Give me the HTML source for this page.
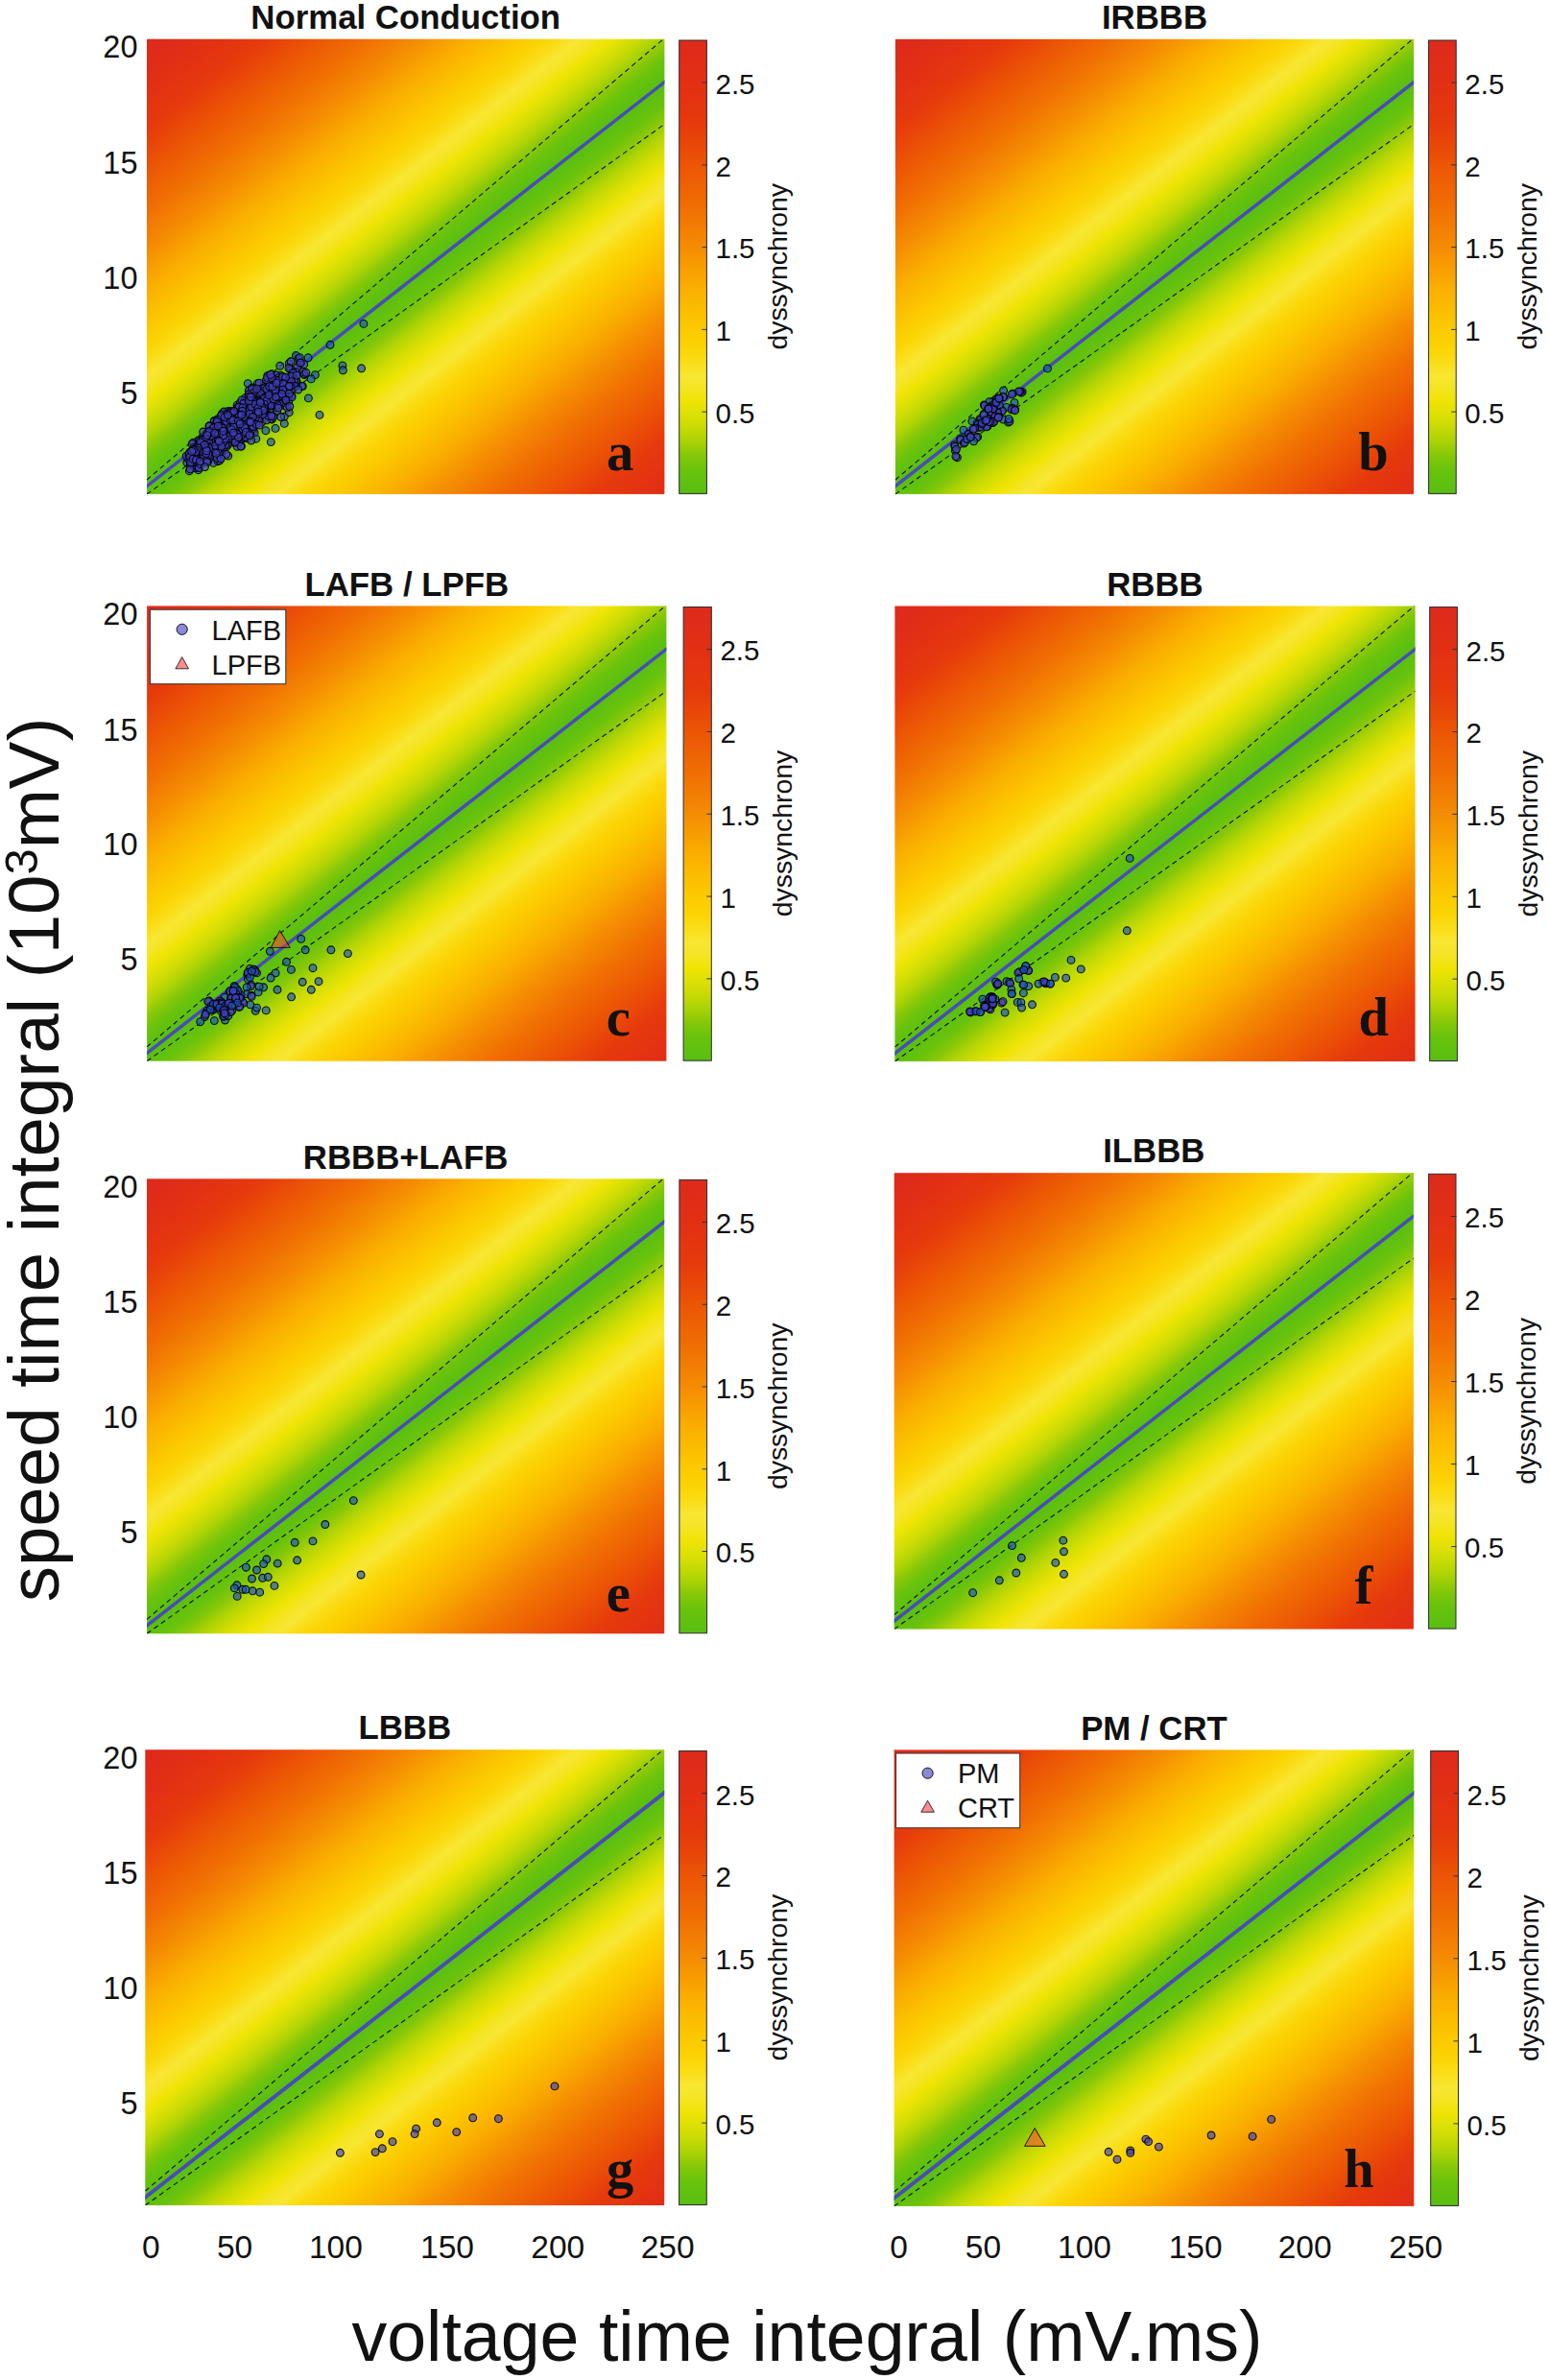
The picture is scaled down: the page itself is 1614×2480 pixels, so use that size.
<!DOCTYPE html><html><head><meta charset="utf-8"><title>figure</title><style>html,body{margin:0;padding:0;background:#fff}svg{display:block}text{font-family:"Liberation Sans",Arial,sans-serif;fill:#111}.t{font-weight:bold;font-size:34.8px;text-anchor:middle}.yt{font-size:32.5px;text-anchor:end}.xt{font-size:33.5px;text-anchor:middle}.ct{font-size:29.5px}.dy{font-size:28.4px;text-anchor:middle}.lt{font-family:"Liberation Serif","Times New Roman",serif;font-weight:bold;font-size:56.5px;text-anchor:middle;fill:#111}.lg{font-size:29px}.s{fill:rgb(25,85,190)}.pt{fill:rgb(64,64,188);fill-opacity:.66;stroke:#000;stroke-opacity:.9;stroke-width:1.1}</style></head><body><svg width="1614" height="2480" viewBox="0 0 1614 2480"><defs><linearGradient id="fs"><stop offset="0.0102" stop-color="#de2a1b"/><stop offset="0.0553" stop-color="#e23014"/><stop offset="0.0987" stop-color="#e63a0c"/><stop offset="0.1422" stop-color="#ec5505"/><stop offset="0.1856" stop-color="#f06e03"/><stop offset="0.2290" stop-color="#f58c03"/><stop offset="0.2724" stop-color="#faaf00"/><stop offset="0.3158" stop-color="#fcca00"/><stop offset="0.3353" stop-color="#fbd405"/><stop offset="0.3515" stop-color="#fade19"/><stop offset="0.3634" stop-color="#f8e632"/><stop offset="0.3750" stop-color="#f5e528"/><stop offset="0.3903" stop-color="#f0e405"/><stop offset="0.4007" stop-color="#e1e105"/><stop offset="0.4134" stop-color="#cddc05"/><stop offset="0.4288" stop-color="#afd405"/><stop offset="0.4442" stop-color="#87c808"/><stop offset="0.4595" stop-color="#69c30c"/><stop offset="0.4833" stop-color="#58be12"/><stop offset="0.5071" stop-color="#69c30c"/><stop offset="0.5224" stop-color="#87c808"/><stop offset="0.5378" stop-color="#afd405"/><stop offset="0.5531" stop-color="#cddc05"/><stop offset="0.5659" stop-color="#e1e105"/><stop offset="0.5763" stop-color="#f0e405"/><stop offset="0.5916" stop-color="#f5e528"/><stop offset="0.6032" stop-color="#f8e632"/><stop offset="0.6151" stop-color="#fade19"/><stop offset="0.6313" stop-color="#fbd405"/><stop offset="0.6507" stop-color="#fcca00"/><stop offset="0.6942" stop-color="#faaf00"/><stop offset="0.7376" stop-color="#f58c03"/><stop offset="0.7810" stop-color="#f06e03"/><stop offset="0.8244" stop-color="#ec5505"/><stop offset="0.8678" stop-color="#e63a0c"/><stop offset="0.9113" stop-color="#e23014"/><stop offset="0.9564" stop-color="#de2a1b"/></linearGradient><linearGradient id="cbg" x1="0" y1="1" x2="0" y2="0"><stop offset="0.0000" stop-color="#58be12"/><stop offset="0.0522" stop-color="#69c30c"/><stop offset="0.0859" stop-color="#87c808"/><stop offset="0.1196" stop-color="#afd405"/><stop offset="0.1533" stop-color="#cddc05"/><stop offset="0.1812" stop-color="#e1e105"/><stop offset="0.2040" stop-color="#f0e405"/><stop offset="0.2377" stop-color="#f5e528"/><stop offset="0.2630" stop-color="#f8e632"/><stop offset="0.2880" stop-color="#fade19"/><stop offset="0.3217" stop-color="#fbd405"/><stop offset="0.3623" stop-color="#fcca00"/><stop offset="0.4529" stop-color="#faaf00"/><stop offset="0.5435" stop-color="#f58c03"/><stop offset="0.6341" stop-color="#f06e03"/><stop offset="0.7246" stop-color="#ec5505"/><stop offset="0.8152" stop-color="#e63a0c"/><stop offset="0.9058" stop-color="#e23014"/><stop offset="1.0000" stop-color="#de2a1b"/></linearGradient><linearGradient id="fa" href="#fs" gradientUnits="userSpaceOnUse" x1="153.00" y1="40.70" x2="619.86" y2="640.01"/><clipPath id="ca"><rect x="153.00" y="40.70" width="539.40" height="474.20"/></clipPath><linearGradient id="fb" href="#fs" gradientUnits="userSpaceOnUse" x1="932.90" y1="40.80" x2="1400.45" y2="639.98"/><clipPath id="cb"><rect x="932.90" y="40.80" width="540.20" height="474.10"/></clipPath><linearGradient id="fc" href="#fs" gradientUnits="userSpaceOnUse" x1="153.10" y1="631.40" x2="621.60" y2="1230.84"/><clipPath id="cc"><rect x="153.10" y="631.40" width="541.30" height="474.30"/></clipPath><linearGradient id="fd" href="#fs" gradientUnits="userSpaceOnUse" x1="932.40" y1="631.50" x2="1401.68" y2="1231.19"/><clipPath id="cd"><rect x="932.40" y="631.50" width="542.20" height="474.50"/></clipPath><linearGradient id="fe" href="#fs" gradientUnits="userSpaceOnUse" x1="153.00" y1="1228.30" x2="619.69" y2="1827.36"/><clipPath id="ce"><rect x="153.00" y="1228.30" width="539.20" height="474.00"/></clipPath><linearGradient id="ff" href="#fs" gradientUnits="userSpaceOnUse" x1="931.70" y1="1222.20" x2="1400.12" y2="1823.03"/><clipPath id="cf"><rect x="931.70" y="1222.20" width="541.20" height="475.40"/></clipPath><linearGradient id="fg" href="#fs" gradientUnits="userSpaceOnUse" x1="151.30" y1="1823.20" x2="619.46" y2="2423.27"/><clipPath id="cg"><rect x="151.30" y="1823.20" width="540.90" height="474.80"/></clipPath><linearGradient id="fh" href="#fs" gradientUnits="userSpaceOnUse" x1="931.60" y1="1823.40" x2="1400.45" y2="2424.35"/><clipPath id="ch"><rect x="931.60" y="1823.40" width="541.70" height="475.50"/></clipPath></defs><rect width="1614" height="2480" fill="#fff"/><g id="panel-a"><rect x="153.00" y="40.70" width="539.40" height="474.20" fill="url(#fa)"/><g clip-path="url(#ca)"><path d="M153.00 500.01L692.40 39.75M153.00 514.90L692.40 129.38" stroke="#101010" stroke-width="1.1" stroke-dasharray="5.2 3.9" fill="none"/><path d="M151.00 508.16L694.40 84.05" stroke="rgb(72,76,184)" stroke-width="3.5" fill="none"/></g><g class="pt"><circle class="s" cx="378.9" cy="337.4" r="3.9"/><circle class="s" cx="344.0" cy="359.3" r="3.9"/><circle class="s" cx="356.9" cy="380.9" r="3.9"/><circle class="s" cx="357.4" cy="385.8" r="3.9"/><circle class="s" cx="376.6" cy="383.8" r="3.9"/><circle class="s" cx="321.1" cy="372.8" r="3.9"/><circle class="s" cx="308.4" cy="370.4" r="3.9"/><circle class="s" cx="311.0" cy="373.5" r="3.9"/><circle class="s" cx="328.4" cy="390.6" r="3.9"/><circle class="s" cx="324.2" cy="394.9" r="3.9"/><circle class="s" cx="317.2" cy="390.6" r="3.9"/><circle class="s" cx="315.3" cy="402.5" r="3.9"/><circle class="s" cx="321.4" cy="414.9" r="3.9"/><circle class="s" cx="333.0" cy="432.4" r="3.9"/><circle class="s" cx="258.3" cy="399.6" r="3.9"/><circle class="s" cx="296.3" cy="441.4" r="3.9"/><circle class="s" cx="296.3" cy="434.0" r="3.9"/><circle class="s" cx="287.0" cy="446.4" r="3.9"/><circle class="s" cx="282.3" cy="460.6" r="3.9"/><circle class="s" cx="276.9" cy="448.7" r="3.9"/><circle class="s" cx="266.8" cy="457.2" r="3.9"/><circle class="s" cx="206.7" cy="489.7" r="3.9"/><circle class="s" cx="194.8" cy="482.0" r="3.9"/><circle cx="252.8" cy="457.1" r="3.9"/><circle cx="232.7" cy="433.4" r="3.9"/><circle cx="224.3" cy="456.6" r="3.9"/><circle cx="249.8" cy="438.3" r="3.9"/><circle cx="255.2" cy="432.9" r="3.9"/><circle cx="211.1" cy="465.1" r="3.9"/><circle cx="286.8" cy="406.4" r="3.9"/><circle cx="270.8" cy="435.4" r="3.9"/><circle cx="212.7" cy="461.8" r="3.9"/><circle cx="241.9" cy="442.4" r="3.9"/><circle cx="289.9" cy="408.0" r="3.9"/><circle cx="218.1" cy="462.4" r="3.9"/><circle cx="208.4" cy="467.3" r="3.9"/><circle cx="249.2" cy="450.5" r="3.9"/><circle cx="237.4" cy="446.9" r="3.9"/><circle cx="217.5" cy="463.5" r="3.9"/><circle cx="290.8" cy="406.7" r="3.9"/><circle cx="200.4" cy="468.9" r="3.9"/><circle cx="272.4" cy="411.6" r="3.9"/><circle cx="286.6" cy="398.2" r="3.9"/><circle cx="272.5" cy="423.5" r="3.9"/><circle cx="223.0" cy="451.4" r="3.9"/><circle cx="241.8" cy="432.9" r="3.9"/><circle cx="253.5" cy="438.0" r="3.9"/><circle cx="205.4" cy="474.7" r="3.9"/><circle cx="301.2" cy="378.7" r="3.9"/><circle cx="263.9" cy="449.2" r="3.9"/><circle cx="261.5" cy="429.5" r="3.9"/><circle cx="234.6" cy="448.0" r="3.9"/><circle cx="266.1" cy="439.5" r="3.9"/><circle cx="198.4" cy="476.4" r="3.9"/><circle cx="251.2" cy="430.3" r="3.9"/><circle cx="301.2" cy="429.7" r="3.9"/><circle cx="284.6" cy="399.4" r="3.9"/><circle cx="229.9" cy="451.7" r="3.9"/><circle cx="256.5" cy="443.5" r="3.9"/><circle cx="241.8" cy="432.8" r="3.9"/><circle cx="237.2" cy="446.1" r="3.9"/><circle cx="258.2" cy="436.5" r="3.9"/><circle cx="222.3" cy="482.4" r="3.9"/><circle cx="217.1" cy="454.9" r="3.9"/><circle cx="263.1" cy="427.4" r="3.9"/><circle cx="261.4" cy="437.6" r="3.9"/><circle cx="221.8" cy="459.4" r="3.9"/><circle cx="257.8" cy="418.7" r="3.9"/><circle cx="237.6" cy="451.6" r="3.9"/><circle cx="276.9" cy="419.1" r="3.9"/><circle cx="272.6" cy="426.7" r="3.9"/><circle cx="246.6" cy="453.9" r="3.9"/><circle cx="263.0" cy="441.0" r="3.9"/><circle cx="239.0" cy="450.6" r="3.9"/><circle cx="216.6" cy="465.4" r="3.9"/><circle cx="311.9" cy="378.5" r="3.9"/><circle cx="246.6" cy="438.7" r="3.9"/><circle cx="221.5" cy="461.0" r="3.9"/><circle cx="250.3" cy="433.1" r="3.9"/><circle cx="249.0" cy="439.6" r="3.9"/><circle cx="219.7" cy="453.2" r="3.9"/><circle cx="211.2" cy="479.6" r="3.9"/><circle cx="203.3" cy="487.7" r="3.9"/><circle cx="227.4" cy="450.9" r="3.9"/><circle cx="218.0" cy="465.2" r="3.9"/><circle cx="210.8" cy="465.1" r="3.9"/><circle cx="204.9" cy="480.6" r="3.9"/><circle cx="246.7" cy="445.4" r="3.9"/><circle cx="286.2" cy="411.8" r="3.9"/><circle cx="260.1" cy="427.7" r="3.9"/><circle cx="218.7" cy="462.1" r="3.9"/><circle cx="226.8" cy="445.8" r="3.9"/><circle cx="251.0" cy="445.2" r="3.9"/><circle cx="219.8" cy="454.1" r="3.9"/><circle cx="259.8" cy="437.2" r="3.9"/><circle cx="255.5" cy="435.2" r="3.9"/><circle cx="256.8" cy="446.4" r="3.9"/><circle cx="281.4" cy="414.1" r="3.9"/><circle cx="220.7" cy="469.5" r="3.9"/><circle cx="238.2" cy="437.2" r="3.9"/><circle cx="240.3" cy="452.0" r="3.9"/><circle cx="216.7" cy="460.6" r="3.9"/><circle cx="231.2" cy="453.7" r="3.9"/><circle cx="277.0" cy="418.5" r="3.9"/><circle cx="291.7" cy="419.4" r="3.9"/><circle cx="283.1" cy="389.6" r="3.9"/><circle cx="206.1" cy="472.7" r="3.9"/><circle cx="265.1" cy="409.7" r="3.9"/><circle cx="201.0" cy="482.1" r="3.9"/><circle cx="230.1" cy="433.9" r="3.9"/><circle cx="234.7" cy="439.2" r="3.9"/><circle cx="247.1" cy="422.2" r="3.9"/><circle cx="284.9" cy="433.8" r="3.9"/><circle cx="292.3" cy="391.1" r="3.9"/><circle cx="303.8" cy="399.3" r="3.9"/><circle cx="204.9" cy="467.7" r="3.9"/><circle cx="226.0" cy="439.2" r="3.9"/><circle cx="239.1" cy="442.4" r="3.9"/><circle cx="282.4" cy="422.5" r="3.9"/><circle cx="250.7" cy="435.2" r="3.9"/><circle cx="211.2" cy="474.5" r="3.9"/><circle cx="288.3" cy="405.0" r="3.9"/><circle cx="236.1" cy="448.1" r="3.9"/><circle cx="206.4" cy="467.5" r="3.9"/><circle cx="198.6" cy="477.9" r="3.9"/><circle cx="265.2" cy="450.9" r="3.9"/><circle cx="257.5" cy="436.7" r="3.9"/><circle cx="199.6" cy="476.4" r="3.9"/><circle cx="295.0" cy="396.9" r="3.9"/><circle cx="245.9" cy="432.8" r="3.9"/><circle cx="272.7" cy="440.1" r="3.9"/><circle cx="267.9" cy="411.8" r="3.9"/><circle cx="229.3" cy="444.5" r="3.9"/><circle cx="229.2" cy="452.2" r="3.9"/><circle cx="248.3" cy="434.4" r="3.9"/><circle cx="216.5" cy="480.8" r="3.9"/><circle cx="268.3" cy="399.7" r="3.9"/><circle cx="218.2" cy="464.8" r="3.9"/><circle cx="216.9" cy="469.0" r="3.9"/><circle cx="274.2" cy="406.9" r="3.9"/><circle cx="248.2" cy="432.2" r="3.9"/><circle cx="204.3" cy="474.8" r="3.9"/><circle cx="244.4" cy="461.4" r="3.9"/><circle cx="239.3" cy="436.3" r="3.9"/><circle cx="287.9" cy="391.0" r="3.9"/><circle cx="264.5" cy="439.4" r="3.9"/><circle cx="253.6" cy="454.0" r="3.9"/><circle cx="286.4" cy="406.7" r="3.9"/><circle cx="201.4" cy="461.2" r="3.9"/><circle cx="245.2" cy="458.7" r="3.9"/><circle cx="279.2" cy="413.7" r="3.9"/><circle cx="263.3" cy="442.3" r="3.9"/><circle cx="219.8" cy="459.7" r="3.9"/><circle cx="265.8" cy="421.7" r="3.9"/><circle cx="231.3" cy="447.2" r="3.9"/><circle cx="263.5" cy="446.7" r="3.9"/><circle cx="198.3" cy="484.7" r="3.9"/><circle cx="259.3" cy="407.2" r="3.9"/><circle cx="262.3" cy="418.1" r="3.9"/><circle cx="260.8" cy="452.4" r="3.9"/><circle cx="203.2" cy="470.2" r="3.9"/><circle cx="262.5" cy="413.2" r="3.9"/><circle cx="295.6" cy="403.8" r="3.9"/><circle cx="268.9" cy="422.4" r="3.9"/><circle cx="302.3" cy="397.6" r="3.9"/><circle cx="236.5" cy="442.9" r="3.9"/><circle cx="286.1" cy="407.2" r="3.9"/><circle cx="208.6" cy="465.2" r="3.9"/><circle cx="268.9" cy="428.0" r="3.9"/><circle cx="242.8" cy="434.6" r="3.9"/><circle cx="263.7" cy="424.2" r="3.9"/><circle cx="254.2" cy="433.0" r="3.9"/><circle cx="257.9" cy="448.4" r="3.9"/><circle cx="229.9" cy="456.6" r="3.9"/><circle cx="315.7" cy="387.5" r="3.9"/><circle cx="229.2" cy="458.9" r="3.9"/><circle cx="238.4" cy="451.0" r="3.9"/><circle cx="215.9" cy="473.1" r="3.9"/><circle cx="222.2" cy="463.4" r="3.9"/><circle cx="283.3" cy="437.0" r="3.9"/><circle cx="300.7" cy="418.4" r="3.9"/><circle cx="294.2" cy="404.3" r="3.9"/><circle cx="270.6" cy="417.7" r="3.9"/><circle cx="263.1" cy="439.3" r="3.9"/><circle cx="237.9" cy="452.6" r="3.9"/><circle cx="227.5" cy="453.5" r="3.9"/><circle cx="267.8" cy="407.8" r="3.9"/><circle cx="237.9" cy="428.4" r="3.9"/><circle cx="255.0" cy="438.3" r="3.9"/><circle cx="270.6" cy="432.5" r="3.9"/><circle cx="219.8" cy="467.9" r="3.9"/><circle cx="260.0" cy="416.0" r="3.9"/><circle cx="245.0" cy="453.8" r="3.9"/><circle cx="253.9" cy="428.9" r="3.9"/><circle cx="288.8" cy="414.1" r="3.9"/><circle cx="296.2" cy="409.0" r="3.9"/><circle cx="295.0" cy="394.7" r="3.9"/><circle cx="271.4" cy="415.0" r="3.9"/><circle cx="270.1" cy="399.2" r="3.9"/><circle cx="230.3" cy="443.6" r="3.9"/><circle cx="303.1" cy="376.8" r="3.9"/><circle cx="238.7" cy="451.1" r="3.9"/><circle cx="195.9" cy="478.1" r="3.9"/><circle cx="314.5" cy="402.4" r="3.9"/><circle cx="213.3" cy="468.1" r="3.9"/><circle cx="248.7" cy="431.9" r="3.9"/><circle cx="250.5" cy="441.6" r="3.9"/><circle cx="197.1" cy="475.0" r="3.9"/><circle cx="291.1" cy="415.4" r="3.9"/><circle cx="251.6" cy="440.4" r="3.9"/><circle cx="262.3" cy="417.5" r="3.9"/><circle cx="295.5" cy="403.9" r="3.9"/><circle cx="268.9" cy="424.3" r="3.9"/><circle cx="225.8" cy="452.8" r="3.9"/><circle cx="223.0" cy="466.8" r="3.9"/><circle cx="217.9" cy="477.8" r="3.9"/><circle cx="262.8" cy="424.0" r="3.9"/><circle cx="235.6" cy="444.9" r="3.9"/><circle cx="223.3" cy="438.5" r="3.9"/><circle cx="259.8" cy="429.0" r="3.9"/><circle cx="224.4" cy="452.8" r="3.9"/><circle cx="231.4" cy="430.9" r="3.9"/><circle cx="242.3" cy="446.8" r="3.9"/><circle cx="266.9" cy="432.8" r="3.9"/><circle cx="211.7" cy="460.6" r="3.9"/><circle cx="209.8" cy="464.8" r="3.9"/><circle cx="204.8" cy="465.0" r="3.9"/><circle cx="237.4" cy="455.8" r="3.9"/><circle cx="211.0" cy="455.5" r="3.9"/><circle cx="220.8" cy="456.7" r="3.9"/><circle cx="257.5" cy="456.8" r="3.9"/><circle cx="272.7" cy="421.4" r="3.9"/><circle cx="297.3" cy="408.9" r="3.9"/><circle cx="267.9" cy="422.7" r="3.9"/><circle cx="290.8" cy="393.6" r="3.9"/><circle cx="256.1" cy="432.7" r="3.9"/><circle cx="272.7" cy="426.1" r="3.9"/><circle cx="267.4" cy="413.2" r="3.9"/><circle cx="309.2" cy="398.4" r="3.9"/><circle cx="223.8" cy="469.8" r="3.9"/><circle cx="248.3" cy="452.0" r="3.9"/><circle cx="262.1" cy="411.1" r="3.9"/><circle cx="214.9" cy="456.0" r="3.9"/><circle cx="240.3" cy="428.5" r="3.9"/><circle cx="243.2" cy="455.5" r="3.9"/><circle cx="211.9" cy="471.2" r="3.9"/><circle cx="229.8" cy="460.3" r="3.9"/><circle cx="274.4" cy="409.5" r="3.9"/><circle cx="284.1" cy="398.7" r="3.9"/><circle cx="241.0" cy="445.3" r="3.9"/><circle cx="252.8" cy="436.8" r="3.9"/><circle cx="218.1" cy="454.3" r="3.9"/><circle cx="230.6" cy="453.6" r="3.9"/><circle cx="221.9" cy="465.0" r="3.9"/><circle cx="250.4" cy="440.2" r="3.9"/><circle cx="218.2" cy="452.7" r="3.9"/><circle cx="218.0" cy="444.0" r="3.9"/><circle cx="272.8" cy="417.7" r="3.9"/><circle cx="257.4" cy="434.2" r="3.9"/><circle cx="257.4" cy="429.3" r="3.9"/><circle cx="229.5" cy="448.9" r="3.9"/><circle cx="277.1" cy="409.5" r="3.9"/><circle cx="273.0" cy="430.0" r="3.9"/><circle cx="254.7" cy="433.6" r="3.9"/><circle cx="305.8" cy="397.9" r="3.9"/><circle cx="222.1" cy="450.0" r="3.9"/><circle cx="279.1" cy="408.9" r="3.9"/><circle cx="249.1" cy="440.3" r="3.9"/><circle cx="242.1" cy="433.3" r="3.9"/><circle cx="269.1" cy="409.2" r="3.9"/><circle cx="265.0" cy="422.8" r="3.9"/><circle cx="255.6" cy="448.6" r="3.9"/><circle cx="222.6" cy="460.0" r="3.9"/><circle cx="296.9" cy="422.8" r="3.9"/><circle cx="256.5" cy="431.4" r="3.9"/><circle cx="248.6" cy="435.4" r="3.9"/><circle cx="230.6" cy="438.9" r="3.9"/><circle cx="226.4" cy="449.9" r="3.9"/><circle cx="243.2" cy="459.8" r="3.9"/><circle cx="214.6" cy="466.9" r="3.9"/><circle cx="256.4" cy="442.1" r="3.9"/><circle cx="224.1" cy="464.2" r="3.9"/><circle cx="299.5" cy="400.8" r="3.9"/><circle cx="286.3" cy="408.3" r="3.9"/><circle cx="197.9" cy="477.1" r="3.9"/><circle cx="223.1" cy="464.5" r="3.9"/><circle cx="212.5" cy="469.5" r="3.9"/><circle cx="279.2" cy="422.5" r="3.9"/><circle cx="199.7" cy="476.0" r="3.9"/><circle cx="305.7" cy="387.1" r="3.9"/><circle cx="294.3" cy="401.6" r="3.9"/><circle cx="235.6" cy="439.1" r="3.9"/><circle cx="300.8" cy="413.7" r="3.9"/><circle cx="223.1" cy="439.2" r="3.9"/><circle cx="222.9" cy="455.9" r="3.9"/><circle cx="197.3" cy="490.7" r="3.9"/><circle cx="217.7" cy="458.8" r="3.9"/><circle cx="226.9" cy="444.4" r="3.9"/><circle cx="235.2" cy="448.4" r="3.9"/><circle cx="234.1" cy="464.0" r="3.9"/><circle cx="258.6" cy="429.5" r="3.9"/><circle cx="238.9" cy="453.0" r="3.9"/><circle cx="240.3" cy="446.0" r="3.9"/><circle cx="244.1" cy="438.2" r="3.9"/><circle cx="227.0" cy="480.7" r="3.9"/><circle cx="281.1" cy="415.5" r="3.9"/><circle cx="267.2" cy="418.8" r="3.9"/><circle cx="291.2" cy="401.3" r="3.9"/><circle cx="287.8" cy="414.7" r="3.9"/><circle cx="219.2" cy="464.5" r="3.9"/><circle cx="226.0" cy="463.6" r="3.9"/><circle cx="289.8" cy="410.0" r="3.9"/><circle cx="220.5" cy="447.4" r="3.9"/><circle cx="226.9" cy="460.4" r="3.9"/><circle cx="270.0" cy="419.3" r="3.9"/><circle cx="197.0" cy="475.6" r="3.9"/><circle cx="224.4" cy="443.5" r="3.9"/><circle cx="208.7" cy="464.3" r="3.9"/><circle cx="234.6" cy="442.0" r="3.9"/><circle cx="245.8" cy="440.4" r="3.9"/><circle cx="227.2" cy="441.2" r="3.9"/><circle cx="260.8" cy="430.3" r="3.9"/><circle cx="251.8" cy="437.8" r="3.9"/><circle cx="269.9" cy="410.1" r="3.9"/><circle cx="228.1" cy="448.1" r="3.9"/><circle cx="309.7" cy="383.1" r="3.9"/><circle cx="200.5" cy="480.3" r="3.9"/><circle cx="200.1" cy="462.7" r="3.9"/><circle cx="223.0" cy="454.7" r="3.9"/><circle cx="250.3" cy="419.7" r="3.9"/><circle cx="266.1" cy="420.9" r="3.9"/><circle cx="243.8" cy="452.3" r="3.9"/><circle cx="274.5" cy="412.2" r="3.9"/><circle cx="317.2" cy="389.6" r="3.9"/><circle cx="230.0" cy="444.5" r="3.9"/><circle cx="208.6" cy="484.1" r="3.9"/><circle cx="209.2" cy="475.5" r="3.9"/><circle cx="287.8" cy="424.9" r="3.9"/><circle cx="258.2" cy="417.0" r="3.9"/><circle cx="275.6" cy="406.0" r="3.9"/><circle cx="226.6" cy="466.4" r="3.9"/><circle cx="268.2" cy="422.0" r="3.9"/><circle cx="251.9" cy="433.5" r="3.9"/><circle cx="307.8" cy="399.3" r="3.9"/><circle cx="221.5" cy="448.0" r="3.9"/><circle cx="240.8" cy="453.6" r="3.9"/><circle cx="237.2" cy="447.4" r="3.9"/><circle cx="292.1" cy="412.9" r="3.9"/><circle cx="211.3" cy="461.4" r="3.9"/><circle cx="243.1" cy="448.9" r="3.9"/><circle cx="316.8" cy="379.6" r="3.9"/><circle cx="245.8" cy="452.3" r="3.9"/><circle cx="199.3" cy="482.4" r="3.9"/><circle cx="224.7" cy="465.9" r="3.9"/><circle cx="252.5" cy="442.2" r="3.9"/><circle cx="281.5" cy="422.7" r="3.9"/><circle cx="259.5" cy="406.8" r="3.9"/><circle cx="223.5" cy="465.9" r="3.9"/><circle cx="250.5" cy="434.3" r="3.9"/><circle cx="294.9" cy="405.6" r="3.9"/><circle cx="276.1" cy="415.0" r="3.9"/><circle cx="272.6" cy="405.0" r="3.9"/><circle cx="279.5" cy="409.5" r="3.9"/><circle cx="247.7" cy="447.4" r="3.9"/><circle cx="200.6" cy="483.6" r="3.9"/><circle cx="196.2" cy="474.6" r="3.9"/><circle cx="204.9" cy="465.4" r="3.9"/><circle cx="237.4" cy="463.7" r="3.9"/><circle cx="194.2" cy="475.2" r="3.9"/><circle cx="205.6" cy="486.3" r="3.9"/><circle cx="249.8" cy="438.4" r="3.9"/><circle cx="215.8" cy="456.0" r="3.9"/><circle cx="221.6" cy="468.6" r="3.9"/><circle cx="282.0" cy="436.6" r="3.9"/><circle cx="240.7" cy="430.0" r="3.9"/><circle cx="277.7" cy="437.8" r="3.9"/><circle cx="203.4" cy="470.6" r="3.9"/><circle cx="243.9" cy="460.0" r="3.9"/><circle cx="260.0" cy="426.1" r="3.9"/><circle cx="279.1" cy="397.8" r="3.9"/><circle cx="224.3" cy="461.9" r="3.9"/><circle cx="278.3" cy="429.0" r="3.9"/><circle cx="247.1" cy="465.3" r="3.9"/><circle cx="250.5" cy="458.5" r="3.9"/><circle cx="277.9" cy="426.2" r="3.9"/><circle cx="266.2" cy="423.0" r="3.9"/><circle cx="250.4" cy="431.8" r="3.9"/><circle cx="282.0" cy="410.5" r="3.9"/><circle cx="265.9" cy="416.5" r="3.9"/><circle cx="227.1" cy="452.1" r="3.9"/><circle cx="278.8" cy="391.4" r="3.9"/><circle cx="233.6" cy="451.8" r="3.9"/><circle cx="271.1" cy="421.7" r="3.9"/><circle cx="228.9" cy="479.8" r="3.9"/><circle cx="269.5" cy="433.1" r="3.9"/><circle cx="249.2" cy="433.2" r="3.9"/><circle cx="265.3" cy="433.6" r="3.9"/><circle cx="201.4" cy="466.6" r="3.9"/><circle cx="281.3" cy="407.4" r="3.9"/><circle cx="234.7" cy="430.8" r="3.9"/><circle cx="288.8" cy="428.3" r="3.9"/><circle cx="282.2" cy="421.7" r="3.9"/><circle cx="302.2" cy="384.9" r="3.9"/><circle cx="283.6" cy="412.0" r="3.9"/><circle cx="275.7" cy="431.2" r="3.9"/><circle cx="288.8" cy="415.6" r="3.9"/><circle cx="257.0" cy="437.3" r="3.9"/><circle cx="213.8" cy="457.9" r="3.9"/><circle cx="257.2" cy="425.3" r="3.9"/><circle cx="203.2" cy="473.1" r="3.9"/><circle cx="299.0" cy="413.9" r="3.9"/><circle cx="275.7" cy="409.0" r="3.9"/><circle cx="214.4" cy="455.3" r="3.9"/><circle cx="295.0" cy="419.8" r="3.9"/><circle cx="279.5" cy="405.0" r="3.9"/><circle cx="199.6" cy="481.9" r="3.9"/><circle cx="242.3" cy="446.3" r="3.9"/><circle cx="296.5" cy="415.1" r="3.9"/><circle cx="255.5" cy="455.5" r="3.9"/><circle cx="201.0" cy="478.6" r="3.9"/><circle cx="204.7" cy="477.0" r="3.9"/><circle cx="241.4" cy="434.6" r="3.9"/><circle cx="288.2" cy="401.1" r="3.9"/><circle cx="231.1" cy="458.8" r="3.9"/><circle cx="235.8" cy="465.6" r="3.9"/><circle cx="251.6" cy="453.7" r="3.9"/><circle cx="207.3" cy="487.6" r="3.9"/><circle cx="250.0" cy="441.4" r="3.9"/><circle cx="274.8" cy="421.9" r="3.9"/><circle cx="269.1" cy="436.6" r="3.9"/><circle cx="203.5" cy="472.3" r="3.9"/><circle cx="235.1" cy="448.1" r="3.9"/><circle cx="246.6" cy="429.2" r="3.9"/><circle cx="291.1" cy="420.6" r="3.9"/><circle cx="303.4" cy="385.2" r="3.9"/><circle cx="241.3" cy="450.2" r="3.9"/><circle cx="280.3" cy="398.7" r="3.9"/><circle cx="264.4" cy="441.1" r="3.9"/><circle cx="272.5" cy="409.2" r="3.9"/><circle cx="250.6" cy="447.6" r="3.9"/><circle cx="207.2" cy="458.6" r="3.9"/><circle cx="294.8" cy="399.2" r="3.9"/><circle cx="214.7" cy="474.6" r="3.9"/><circle cx="210.8" cy="460.9" r="3.9"/><circle cx="280.1" cy="416.2" r="3.9"/><circle cx="234.0" cy="444.9" r="3.9"/><circle cx="211.7" cy="450.0" r="3.9"/><circle cx="246.9" cy="443.7" r="3.9"/><circle cx="240.1" cy="450.1" r="3.9"/><circle cx="211.6" cy="457.9" r="3.9"/><circle cx="256.5" cy="440.1" r="3.9"/><circle cx="262.8" cy="419.3" r="3.9"/><circle cx="197.9" cy="471.2" r="3.9"/><circle cx="203.6" cy="472.2" r="3.9"/><circle cx="202.3" cy="469.0" r="3.9"/><circle cx="251.4" cy="465.0" r="3.9"/><circle cx="312.4" cy="372.7" r="3.9"/><circle cx="249.3" cy="447.2" r="3.9"/><circle cx="280.5" cy="428.2" r="3.9"/><circle cx="226.6" cy="437.0" r="3.9"/><circle cx="255.5" cy="414.7" r="3.9"/><circle cx="268.1" cy="431.6" r="3.9"/><circle cx="295.4" cy="398.2" r="3.9"/><circle cx="223.8" cy="461.0" r="3.9"/><circle cx="255.1" cy="448.1" r="3.9"/><circle cx="271.5" cy="417.4" r="3.9"/><circle cx="313.2" cy="378.0" r="3.9"/><circle cx="263.0" cy="404.0" r="3.9"/><circle cx="211.2" cy="468.2" r="3.9"/><circle cx="290.4" cy="396.7" r="3.9"/><circle cx="216.3" cy="465.6" r="3.9"/><circle cx="227.3" cy="457.0" r="3.9"/><circle cx="247.8" cy="424.7" r="3.9"/><circle cx="230.3" cy="471.1" r="3.9"/><circle cx="304.0" cy="412.4" r="3.9"/><circle cx="288.2" cy="420.7" r="3.9"/><circle cx="235.2" cy="437.0" r="3.9"/><circle cx="240.3" cy="440.7" r="3.9"/><circle cx="216.2" cy="458.4" r="3.9"/><circle cx="207.3" cy="466.6" r="3.9"/><circle cx="228.8" cy="443.0" r="3.9"/><circle cx="221.3" cy="463.3" r="3.9"/><circle cx="248.9" cy="441.2" r="3.9"/><circle cx="255.5" cy="438.2" r="3.9"/><circle cx="264.9" cy="420.9" r="3.9"/><circle cx="245.4" cy="456.6" r="3.9"/><circle cx="308.7" cy="396.6" r="3.9"/><circle cx="233.5" cy="429.0" r="3.9"/><circle cx="211.2" cy="461.8" r="3.9"/><circle cx="222.3" cy="457.8" r="3.9"/><circle cx="234.9" cy="459.8" r="3.9"/><circle cx="208.6" cy="466.3" r="3.9"/><circle cx="261.9" cy="426.0" r="3.9"/><circle cx="244.6" cy="434.8" r="3.9"/><circle cx="256.2" cy="441.4" r="3.9"/><circle cx="222.9" cy="453.9" r="3.9"/><circle cx="214.2" cy="459.6" r="3.9"/><circle cx="221.7" cy="452.2" r="3.9"/><circle cx="237.6" cy="453.3" r="3.9"/><circle cx="268.5" cy="417.9" r="3.9"/><circle cx="224.8" cy="441.4" r="3.9"/><circle cx="294.2" cy="413.3" r="3.9"/><circle cx="211.3" cy="461.3" r="3.9"/><circle cx="244.3" cy="446.2" r="3.9"/><circle cx="282.6" cy="418.4" r="3.9"/><circle cx="262.4" cy="443.9" r="3.9"/><circle cx="267.6" cy="438.2" r="3.9"/><circle cx="228.5" cy="448.3" r="3.9"/><circle cx="221.7" cy="457.2" r="3.9"/><circle cx="208.6" cy="459.3" r="3.9"/><circle cx="222.7" cy="474.9" r="3.9"/><circle cx="279.3" cy="421.8" r="3.9"/><circle cx="218.1" cy="474.7" r="3.9"/><circle cx="257.6" cy="428.5" r="3.9"/><circle cx="262.6" cy="405.5" r="3.9"/><circle cx="232.6" cy="467.6" r="3.9"/><circle cx="238.6" cy="447.2" r="3.9"/><circle cx="318.9" cy="388.3" r="3.9"/><circle cx="271.6" cy="422.4" r="3.9"/><circle cx="277.7" cy="425.6" r="3.9"/><circle cx="268.5" cy="430.8" r="3.9"/><circle cx="264.4" cy="409.1" r="3.9"/><circle cx="265.1" cy="440.5" r="3.9"/><circle cx="308.5" cy="387.9" r="3.9"/><circle cx="263.5" cy="422.4" r="3.9"/><circle cx="229.6" cy="471.5" r="3.9"/><circle cx="199.8" cy="480.8" r="3.9"/><circle cx="220.4" cy="456.8" r="3.9"/><circle cx="277.5" cy="395.8" r="3.9"/><circle cx="247.7" cy="441.3" r="3.9"/><circle cx="236.9" cy="453.6" r="3.9"/><circle cx="267.0" cy="424.1" r="3.9"/><circle cx="259.2" cy="417.1" r="3.9"/><circle cx="254.0" cy="426.1" r="3.9"/><circle cx="275.9" cy="404.0" r="3.9"/><circle cx="268.0" cy="427.1" r="3.9"/><circle cx="203.6" cy="478.0" r="3.9"/><circle cx="203.0" cy="479.8" r="3.9"/><circle cx="288.3" cy="400.6" r="3.9"/><circle cx="292.2" cy="409.5" r="3.9"/><circle cx="234.9" cy="455.1" r="3.9"/><circle cx="224.4" cy="452.1" r="3.9"/><circle cx="197.9" cy="475.6" r="3.9"/><circle cx="226.3" cy="477.6" r="3.9"/><circle cx="234.2" cy="451.7" r="3.9"/><circle cx="272.0" cy="432.9" r="3.9"/><circle cx="203.0" cy="469.9" r="3.9"/><circle cx="218.3" cy="461.6" r="3.9"/><circle cx="267.6" cy="405.2" r="3.9"/><circle cx="205.4" cy="470.6" r="3.9"/><circle cx="304.0" cy="413.9" r="3.9"/><circle cx="292.7" cy="434.5" r="3.9"/><circle cx="231.1" cy="464.8" r="3.9"/><circle cx="275.6" cy="427.7" r="3.9"/><circle cx="281.0" cy="415.3" r="3.9"/><circle cx="279.6" cy="408.7" r="3.9"/><circle cx="251.6" cy="434.8" r="3.9"/><circle cx="246.7" cy="447.5" r="3.9"/><circle cx="202.7" cy="468.0" r="3.9"/><circle cx="226.7" cy="464.8" r="3.9"/><circle cx="232.0" cy="441.6" r="3.9"/><circle cx="259.2" cy="411.2" r="3.9"/><circle cx="235.0" cy="438.9" r="3.9"/><circle cx="235.8" cy="431.8" r="3.9"/><circle cx="301.0" cy="383.5" r="3.9"/><circle cx="212.6" cy="475.4" r="3.9"/><circle cx="211.2" cy="465.0" r="3.9"/><circle cx="222.2" cy="460.5" r="3.9"/><circle cx="248.0" cy="453.3" r="3.9"/><circle cx="279.1" cy="432.9" r="3.9"/><circle cx="220.3" cy="455.4" r="3.9"/><circle cx="279.6" cy="433.4" r="3.9"/><circle cx="217.2" cy="465.6" r="3.9"/><circle cx="306.8" cy="395.5" r="3.9"/><circle cx="273.6" cy="425.9" r="3.9"/><circle cx="257.5" cy="416.5" r="3.9"/><circle cx="279.0" cy="407.1" r="3.9"/><circle cx="266.9" cy="423.9" r="3.9"/><circle cx="228.2" cy="460.4" r="3.9"/><circle cx="301.3" cy="395.1" r="3.9"/><circle cx="243.4" cy="441.3" r="3.9"/><circle cx="233.4" cy="460.8" r="3.9"/><circle cx="224.2" cy="471.3" r="3.9"/><circle cx="274.7" cy="429.5" r="3.9"/><circle cx="203.3" cy="481.4" r="3.9"/><circle cx="275.9" cy="413.8" r="3.9"/><circle cx="216.0" cy="460.5" r="3.9"/><circle cx="221.9" cy="461.7" r="3.9"/><circle cx="243.4" cy="439.5" r="3.9"/><circle cx="216.9" cy="458.1" r="3.9"/><circle cx="284.6" cy="434.2" r="3.9"/><circle cx="263.5" cy="425.4" r="3.9"/><circle cx="226.9" cy="446.0" r="3.9"/><circle cx="247.6" cy="445.4" r="3.9"/><circle cx="249.0" cy="460.9" r="3.9"/><circle cx="250.6" cy="438.2" r="3.9"/><circle cx="243.5" cy="457.2" r="3.9"/><circle cx="257.8" cy="427.1" r="3.9"/><circle cx="253.7" cy="429.6" r="3.9"/><circle cx="251.7" cy="429.0" r="3.9"/><circle cx="226.7" cy="453.7" r="3.9"/><circle cx="208.5" cy="483.4" r="3.9"/><circle cx="220.5" cy="449.7" r="3.9"/><circle cx="228.1" cy="471.4" r="3.9"/><circle cx="277.9" cy="405.3" r="3.9"/><circle cx="286.3" cy="407.9" r="3.9"/><circle cx="222.2" cy="466.7" r="3.9"/><circle cx="305.6" cy="405.0" r="3.9"/><circle cx="229.9" cy="455.7" r="3.9"/><circle cx="226.1" cy="440.4" r="3.9"/><circle cx="212.1" cy="469.0" r="3.9"/><circle cx="261.2" cy="418.0" r="3.9"/><circle cx="237.7" cy="475.1" r="3.9"/><circle cx="274.1" cy="417.3" r="3.9"/><circle cx="240.1" cy="447.2" r="3.9"/><circle cx="220.7" cy="449.6" r="3.9"/><circle cx="302.4" cy="393.1" r="3.9"/><circle cx="262.9" cy="413.7" r="3.9"/><circle cx="249.8" cy="449.8" r="3.9"/><circle cx="217.2" cy="459.9" r="3.9"/><circle cx="230.6" cy="458.2" r="3.9"/><circle cx="228.4" cy="447.4" r="3.9"/><circle cx="267.4" cy="419.1" r="3.9"/><circle cx="253.3" cy="451.3" r="3.9"/><circle cx="294.0" cy="393.5" r="3.9"/><circle cx="251.9" cy="416.9" r="3.9"/><circle cx="212.8" cy="468.8" r="3.9"/><circle cx="233.6" cy="438.8" r="3.9"/><circle cx="266.5" cy="420.4" r="3.9"/><circle cx="274.0" cy="431.9" r="3.9"/><circle cx="226.7" cy="447.5" r="3.9"/><circle cx="236.0" cy="458.0" r="3.9"/><circle cx="209.5" cy="462.9" r="3.9"/><circle cx="282.7" cy="433.4" r="3.9"/><circle cx="263.8" cy="444.5" r="3.9"/><circle cx="262.6" cy="423.1" r="3.9"/><circle cx="275.9" cy="416.0" r="3.9"/><circle cx="229.6" cy="445.0" r="3.9"/><circle cx="232.9" cy="452.6" r="3.9"/><circle cx="269.6" cy="438.1" r="3.9"/><circle cx="240.3" cy="430.2" r="3.9"/><circle cx="242.8" cy="453.9" r="3.9"/><circle cx="253.8" cy="420.5" r="3.9"/><circle cx="286.5" cy="400.5" r="3.9"/><circle cx="226.5" cy="438.8" r="3.9"/><circle cx="198.2" cy="488.8" r="3.9"/><circle cx="232.5" cy="451.3" r="3.9"/><circle cx="231.0" cy="454.4" r="3.9"/><circle cx="305.3" cy="388.5" r="3.9"/><circle cx="230.3" cy="463.9" r="3.9"/><circle cx="218.1" cy="444.0" r="3.9"/><circle cx="262.4" cy="428.7" r="3.9"/><circle cx="235.8" cy="473.3" r="3.9"/><circle cx="291.8" cy="402.1" r="3.9"/><circle cx="227.5" cy="454.5" r="3.9"/><circle cx="282.5" cy="422.5" r="3.9"/><circle cx="235.6" cy="440.4" r="3.9"/><circle cx="239.7" cy="445.5" r="3.9"/><circle cx="249.3" cy="449.9" r="3.9"/><circle cx="249.7" cy="440.2" r="3.9"/><circle cx="228.6" cy="457.5" r="3.9"/><circle cx="221.4" cy="455.9" r="3.9"/><circle cx="234.4" cy="452.8" r="3.9"/><circle cx="277.2" cy="418.2" r="3.9"/><circle cx="248.5" cy="456.5" r="3.9"/><circle cx="231.7" cy="459.2" r="3.9"/><circle cx="252.6" cy="433.1" r="3.9"/><circle cx="291.7" cy="381.3" r="3.9"/><circle cx="266.2" cy="434.9" r="3.9"/><circle cx="262.5" cy="438.1" r="3.9"/><circle cx="239.7" cy="436.1" r="3.9"/><circle cx="278.5" cy="393.4" r="3.9"/><circle cx="238.9" cy="434.4" r="3.9"/><circle cx="238.9" cy="456.7" r="3.9"/><circle cx="211.6" cy="458.2" r="3.9"/><circle cx="303.8" cy="392.2" r="3.9"/><circle cx="201.7" cy="475.1" r="3.9"/><circle cx="231.1" cy="465.2" r="3.9"/><circle cx="303.5" cy="397.7" r="3.9"/><circle cx="274.9" cy="418.0" r="3.9"/><circle cx="217.6" cy="457.2" r="3.9"/><circle cx="245.2" cy="460.8" r="3.9"/><circle cx="200.2" cy="481.6" r="3.9"/><circle cx="225.7" cy="454.9" r="3.9"/><circle cx="222.4" cy="445.9" r="3.9"/><circle cx="243.4" cy="434.4" r="3.9"/><circle cx="217.7" cy="467.1" r="3.9"/><circle cx="240.1" cy="437.7" r="3.9"/><circle cx="252.3" cy="447.0" r="3.9"/><circle cx="210.2" cy="470.2" r="3.9"/><circle cx="257.2" cy="436.0" r="3.9"/><circle cx="295.1" cy="413.1" r="3.9"/><circle cx="275.7" cy="425.2" r="3.9"/><circle cx="230.3" cy="444.2" r="3.9"/><circle cx="275.3" cy="415.1" r="3.9"/><circle cx="230.2" cy="477.9" r="3.9"/><circle cx="242.7" cy="430.6" r="3.9"/><circle cx="284.1" cy="406.8" r="3.9"/><circle cx="218.8" cy="471.1" r="3.9"/><circle cx="199.8" cy="474.1" r="3.9"/><circle cx="250.7" cy="428.5" r="3.9"/><circle cx="249.3" cy="424.1" r="3.9"/><circle cx="216.8" cy="467.4" r="3.9"/><circle cx="289.4" cy="422.2" r="3.9"/><circle cx="226.7" cy="469.7" r="3.9"/><circle cx="278.2" cy="417.4" r="3.9"/><circle cx="247.0" cy="452.5" r="3.9"/><circle cx="214.7" cy="455.7" r="3.9"/><circle cx="232.6" cy="452.4" r="3.9"/><circle cx="264.3" cy="419.4" r="3.9"/><circle cx="275.4" cy="421.1" r="3.9"/><circle cx="238.9" cy="454.6" r="3.9"/><circle cx="297.8" cy="416.8" r="3.9"/><circle cx="289.7" cy="396.5" r="3.9"/><circle cx="290.0" cy="425.1" r="3.9"/><circle cx="256.3" cy="427.8" r="3.9"/><circle cx="219.6" cy="451.6" r="3.9"/><circle cx="271.5" cy="419.7" r="3.9"/><circle cx="216.2" cy="451.0" r="3.9"/><circle cx="248.6" cy="438.7" r="3.9"/><circle cx="245.9" cy="444.2" r="3.9"/><circle cx="251.5" cy="434.4" r="3.9"/><circle cx="307.5" cy="402.3" r="3.9"/><circle cx="251.8" cy="433.0" r="3.9"/><circle cx="286.3" cy="410.7" r="3.9"/><circle cx="218.0" cy="449.5" r="3.9"/><circle cx="224.6" cy="456.9" r="3.9"/><circle cx="197.2" cy="472.6" r="3.9"/><circle cx="261.7" cy="424.0" r="3.9"/><circle cx="222.5" cy="457.3" r="3.9"/><circle cx="231.1" cy="453.8" r="3.9"/><circle cx="283.3" cy="393.7" r="3.9"/><circle cx="259.5" cy="413.4" r="3.9"/><circle cx="212.5" cy="463.2" r="3.9"/><circle cx="287.1" cy="416.5" r="3.9"/><circle cx="223.1" cy="461.3" r="3.9"/><circle cx="252.8" cy="446.7" r="3.9"/><circle cx="234.9" cy="463.6" r="3.9"/><circle cx="275.2" cy="425.5" r="3.9"/><circle cx="197.7" cy="476.4" r="3.9"/><circle cx="208.9" cy="460.9" r="3.9"/><circle cx="263.2" cy="417.3" r="3.9"/><circle cx="206.5" cy="466.8" r="3.9"/><circle cx="272.7" cy="424.3" r="3.9"/><circle cx="256.3" cy="435.7" r="3.9"/><circle cx="244.2" cy="442.0" r="3.9"/><circle cx="227.8" cy="452.7" r="3.9"/><circle cx="261.0" cy="437.5" r="3.9"/><circle cx="243.4" cy="445.0" r="3.9"/><circle cx="241.2" cy="447.7" r="3.9"/><circle cx="285.1" cy="415.8" r="3.9"/><circle cx="231.7" cy="446.0" r="3.9"/><circle cx="294.5" cy="392.4" r="3.9"/><circle cx="226.7" cy="460.1" r="3.9"/><circle cx="290.7" cy="413.1" r="3.9"/><circle cx="205.4" cy="469.4" r="3.9"/><circle cx="266.0" cy="421.1" r="3.9"/><circle cx="251.0" cy="465.1" r="3.9"/><circle cx="297.6" cy="393.3" r="3.9"/><circle cx="309.1" cy="391.1" r="3.9"/><circle cx="302.4" cy="402.4" r="3.9"/><circle cx="259.4" cy="417.9" r="3.9"/><circle cx="268.7" cy="425.3" r="3.9"/><circle cx="215.3" cy="479.9" r="3.9"/><circle cx="198.4" cy="481.7" r="3.9"/><circle cx="201.0" cy="478.3" r="3.9"/><circle cx="230.6" cy="458.5" r="3.9"/><circle cx="218.6" cy="462.1" r="3.9"/><circle cx="243.9" cy="453.6" r="3.9"/><circle cx="203.8" cy="471.0" r="3.9"/><circle cx="249.5" cy="433.6" r="3.9"/><circle cx="260.2" cy="431.4" r="3.9"/><circle cx="232.7" cy="460.6" r="3.9"/><circle cx="217.3" cy="465.1" r="3.9"/><circle cx="260.8" cy="438.3" r="3.9"/><circle cx="230.6" cy="432.9" r="3.9"/><circle cx="217.0" cy="473.4" r="3.9"/><circle cx="261.7" cy="459.0" r="3.9"/><circle cx="267.2" cy="442.3" r="3.9"/><circle cx="287.0" cy="406.4" r="3.9"/><circle cx="201.4" cy="468.8" r="3.9"/><circle cx="287.5" cy="413.5" r="3.9"/><circle cx="252.8" cy="424.9" r="3.9"/><circle cx="234.7" cy="457.2" r="3.9"/><circle cx="242.6" cy="437.8" r="3.9"/><circle cx="214.7" cy="472.6" r="3.9"/><circle cx="248.3" cy="455.6" r="3.9"/><circle cx="281.8" cy="390.4" r="3.9"/><circle cx="232.7" cy="453.8" r="3.9"/><circle cx="252.4" cy="428.4" r="3.9"/><circle cx="261.3" cy="413.6" r="3.9"/><circle cx="248.7" cy="432.1" r="3.9"/><circle cx="271.1" cy="419.4" r="3.9"/><circle cx="204.4" cy="479.1" r="3.9"/><circle cx="233.9" cy="434.8" r="3.9"/><circle cx="223.3" cy="468.2" r="3.9"/><circle cx="215.7" cy="481.7" r="3.9"/><circle cx="269.4" cy="431.0" r="3.9"/><circle cx="217.8" cy="466.8" r="3.9"/><circle cx="248.2" cy="438.8" r="3.9"/><circle cx="215.8" cy="453.6" r="3.9"/><circle cx="263.5" cy="434.5" r="3.9"/><circle cx="225.1" cy="460.1" r="3.9"/><circle cx="255.7" cy="442.6" r="3.9"/><circle cx="213.5" cy="486.6" r="3.9"/><circle cx="224.6" cy="464.1" r="3.9"/><circle cx="227.3" cy="459.0" r="3.9"/><circle cx="270.2" cy="443.1" r="3.9"/><circle cx="243.7" cy="428.5" r="3.9"/><circle cx="227.3" cy="444.0" r="3.9"/><circle cx="295.0" cy="399.8" r="3.9"/><circle cx="223.7" cy="451.4" r="3.9"/><circle cx="259.5" cy="439.4" r="3.9"/><circle cx="280.0" cy="411.7" r="3.9"/><circle cx="299.3" cy="424.9" r="3.9"/><circle cx="208.4" cy="480.8" r="3.9"/><circle cx="301.4" cy="410.0" r="3.9"/><circle cx="251.6" cy="432.3" r="3.9"/><circle cx="274.5" cy="427.6" r="3.9"/><circle cx="261.1" cy="439.8" r="3.9"/><circle cx="280.6" cy="402.6" r="3.9"/><circle cx="214.7" cy="467.0" r="3.9"/><circle cx="243.2" cy="451.1" r="3.9"/><circle cx="301.1" cy="402.6" r="3.9"/><circle cx="225.2" cy="472.4" r="3.9"/><circle cx="230.8" cy="465.2" r="3.9"/><circle cx="199.8" cy="470.4" r="3.9"/><circle cx="294.7" cy="406.1" r="3.9"/><circle cx="283.7" cy="402.9" r="3.9"/><circle cx="228.4" cy="459.9" r="3.9"/><circle cx="288.1" cy="399.2" r="3.9"/><circle cx="254.9" cy="445.6" r="3.9"/><circle cx="293.7" cy="410.5" r="3.9"/><circle cx="310.7" cy="406.0" r="3.9"/><circle cx="232.6" cy="449.2" r="3.9"/><circle cx="237.5" cy="432.5" r="3.9"/><circle cx="301.8" cy="423.5" r="3.9"/><circle cx="213.3" cy="463.6" r="3.9"/><circle cx="256.3" cy="450.4" r="3.9"/><circle cx="269.1" cy="429.1" r="3.9"/><circle cx="215.2" cy="469.7" r="3.9"/><circle cx="260.0" cy="453.6" r="3.9"/><circle cx="250.1" cy="441.7" r="3.9"/></g><text class="t" x="422.7" y="29.9">Normal Conduction</text><text class="lt" x="646.0" y="489.7">a</text><rect x="707.70" y="42.00" width="28.70" height="472.40" fill="url(#cbg)" stroke="#2b2b2b" stroke-width="1"/><path d="M736.90 429.14h-5.5" stroke="#333" stroke-width="1"/><text class="ct" x="745.5" y="440.9">0.5</text><path d="M736.90 343.38h-5.5" stroke="#333" stroke-width="1"/><text class="ct" x="745.5" y="355.2">1</text><path d="M736.90 257.62h-5.5" stroke="#333" stroke-width="1"/><text class="ct" x="745.5" y="269.4">1.5</text><path d="M736.90 171.86h-5.5" stroke="#333" stroke-width="1"/><text class="ct" x="745.5" y="183.7">2</text><path d="M736.90 86.10h-5.5" stroke="#333" stroke-width="1"/><text class="ct" x="745.5" y="97.9">2.5</text><text class="dy" transform="translate(819.7 277.8) rotate(-90)">dyssynchrony</text><text class="yt" x="143.5" y="60.4">20</text><text class="yt" x="143.5" y="180.8">15</text><text class="yt" x="143.5" y="300.5">10</text><text class="yt" x="143.5" y="420.7">5</text></g><g id="panel-b"><rect x="932.90" y="40.80" width="540.20" height="474.10" fill="url(#fb)"/><g clip-path="url(#cb)"><path d="M932.90 500.01L1473.10 39.85M932.90 514.90L1473.10 129.46" stroke="#101010" stroke-width="1.1" stroke-dasharray="5.2 3.9" fill="none"/><path d="M930.90 508.16L1475.10 84.14" stroke="rgb(72,76,184)" stroke-width="3.5" fill="none"/></g><g class="pt"><circle class="s" cx="1091.5" cy="383.9" r="3.9"/><circle cx="1065.2" cy="408.1" r="3.9"/><circle cx="1064.2" cy="409.2" r="3.9"/><circle cx="1062.8" cy="408.1" r="3.9"/><circle cx="1061.4" cy="407.9" r="3.9"/><circle cx="1055.3" cy="410.1" r="3.9"/><circle cx="1054.1" cy="410.9" r="3.9"/><circle class="s" cx="1045.6" cy="406.9" r="3.9"/><circle cx="1045.6" cy="413.7" r="3.9"/><circle cx="1045.2" cy="413.7" r="3.9"/><circle cx="1038.1" cy="415.7" r="3.9"/><circle cx="1038.4" cy="416.5" r="3.9"/><circle class="s" cx="1030.9" cy="418.6" r="3.9"/><circle cx="1025.4" cy="422.0" r="3.9"/><circle cx="1026.0" cy="422.7" r="3.9"/><circle cx="1033.0" cy="422.6" r="3.9"/><circle cx="1031.2" cy="424.3" r="3.9"/><circle class="s" cx="1057.0" cy="419.7" r="3.9"/><circle class="s" cx="1048.9" cy="424.4" r="3.9"/><circle cx="1054.7" cy="425.3" r="3.9"/><circle cx="1054.0" cy="426.7" r="3.9"/><circle cx="1057.6" cy="426.7" r="3.9"/><circle cx="1057.5" cy="427.7" r="3.9"/><circle cx="1043.7" cy="428.4" r="3.9"/><circle cx="1044.4" cy="428.0" r="3.9"/><circle cx="1032.6" cy="429.0" r="3.9"/><circle cx="1033.2" cy="430.6" r="3.9"/><circle cx="1039.0" cy="430.2" r="3.9"/><circle cx="1039.5" cy="429.5" r="3.9"/><circle cx="1036.1" cy="434.8" r="3.9"/><circle cx="1036.9" cy="433.8" r="3.9"/><circle class="s" cx="1028.6" cy="436.0" r="3.9"/><circle cx="1021.0" cy="436.6" r="3.9"/><circle cx="1021.7" cy="437.7" r="3.9"/><circle class="s" cx="1012.9" cy="438.9" r="3.9"/><circle cx="1018.1" cy="441.2" r="3.9"/><circle cx="1019.0" cy="442.6" r="3.9"/><circle cx="1020.4" cy="445.3" r="3.9"/><circle cx="1021.7" cy="444.9" r="3.9"/><circle cx="1029.1" cy="444.1" r="3.9"/><circle cx="1027.9" cy="444.8" r="3.9"/><circle class="s" cx="1045.4" cy="437.1" r="3.9"/><circle cx="1050.6" cy="440.1" r="3.9"/><circle cx="1052.0" cy="439.2" r="3.9"/><circle class="s" cx="1051.2" cy="436.6" r="3.9"/><circle class="s" cx="1003.9" cy="448.2" r="3.9"/><circle cx="1009.4" cy="452.3" r="3.9"/><circle cx="1009.0" cy="452.7" r="3.9"/><circle cx="1018.7" cy="455.2" r="3.9"/><circle cx="1017.5" cy="456.0" r="3.9"/><circle class="s" cx="1014.6" cy="459.8" r="3.9"/><circle cx="1000.7" cy="456.9" r="3.9"/><circle cx="1000.9" cy="458.4" r="3.9"/><circle cx="1004.2" cy="462.1" r="3.9"/><circle cx="1005.4" cy="460.9" r="3.9"/><circle class="s" cx="1007.6" cy="457.5" r="3.9"/><circle cx="994.6" cy="463.6" r="3.9"/><circle cx="995.0" cy="465.3" r="3.9"/><circle cx="995.4" cy="469.7" r="3.9"/><circle cx="996.5" cy="468.1" r="3.9"/><circle cx="997.4" cy="476.7" r="3.9"/><circle cx="995.9" cy="475.6" r="3.9"/><circle cx="1034.4" cy="440.6" r="3.9"/><circle cx="1035.7" cy="439.3" r="3.9"/><circle cx="1025.1" cy="431.3" r="3.9"/><circle cx="1025.0" cy="432.6" r="3.9"/><circle class="s" cx="1041.3" cy="422.0" r="3.9"/><circle cx="1035.5" cy="425.5" r="3.9"/><circle cx="1034.5" cy="425.7" r="3.9"/><circle cx="1015.8" cy="446.4" r="3.9"/><circle cx="1014.2" cy="447.1" r="3.9"/><circle cx="1029.7" cy="425.5" r="3.9"/><circle cx="1030.0" cy="426.1" r="3.9"/><circle cx="1040.2" cy="434.8" r="3.9"/><circle cx="1040.3" cy="435.0" r="3.9"/><circle cx="1023.3" cy="441.8" r="3.9"/><circle cx="1023.3" cy="440.4" r="3.9"/><circle cx="1011.1" cy="454.6" r="3.9"/><circle cx="1011.3" cy="455.6" r="3.9"/><circle cx="1032.0" cy="439.5" r="3.9"/><circle cx="1030.3" cy="439.6" r="3.9"/><circle cx="1026.8" cy="438.3" r="3.9"/><circle cx="1027.7" cy="437.9" r="3.9"/><circle cx="1036.7" cy="419.7" r="3.9"/><circle cx="1038.2" cy="419.3" r="3.9"/><circle cx="1041.3" cy="415.1" r="3.9"/><circle cx="1040.8" cy="415.0" r="3.9"/></g><text class="t" x="1203.0" y="30.0">IRBBB</text><text class="lt" x="1430.9" y="489.9">b</text><rect x="1488.60" y="42.00" width="28.60" height="472.40" fill="url(#cbg)" stroke="#2b2b2b" stroke-width="1"/><path d="M1517.70 429.14h-5.5" stroke="#333" stroke-width="1"/><text class="ct" x="1526.3" y="440.9">0.5</text><path d="M1517.70 343.38h-5.5" stroke="#333" stroke-width="1"/><text class="ct" x="1526.3" y="355.2">1</text><path d="M1517.70 257.62h-5.5" stroke="#333" stroke-width="1"/><text class="ct" x="1526.3" y="269.4">1.5</text><path d="M1517.70 171.86h-5.5" stroke="#333" stroke-width="1"/><text class="ct" x="1526.3" y="183.7">2</text><path d="M1517.70 86.10h-5.5" stroke="#333" stroke-width="1"/><text class="ct" x="1526.3" y="97.9">2.5</text><text class="dy" transform="translate(1600.5 277.8) rotate(-90)">dyssynchrony</text></g><g id="panel-c"><rect x="153.10" y="631.40" width="541.30" height="474.30" fill="url(#fc)"/><g clip-path="url(#cc)"><path d="M153.10 1090.81L694.40 630.45M153.10 1105.70L694.40 720.09" stroke="#101010" stroke-width="1.1" stroke-dasharray="5.2 3.9" fill="none"/><path d="M151.10 1098.96L696.40 674.76" stroke="rgb(72,76,184)" stroke-width="3.5" fill="none"/></g><g class="pt"><circle class="s" cx="313.7" cy="978.4" r="3.9"/><circle class="s" cx="318.2" cy="989.8" r="3.9"/><circle class="s" cx="344.9" cy="989.8" r="3.9"/><circle class="s" cx="362.4" cy="993.6" r="3.9"/><circle class="s" cx="281.3" cy="991.3" r="3.9"/><circle class="s" cx="298.5" cy="1002.3" r="3.9"/><circle class="s" cx="303.4" cy="1010.4" r="3.9"/><circle class="s" cx="326.0" cy="1008.7" r="3.9"/><circle class="s" cx="287.1" cy="1013.9" r="3.9"/><circle class="s" cx="282.1" cy="1019.1" r="3.9"/><circle class="s" cx="315.2" cy="1023.3" r="3.9"/><circle class="s" cx="332.0" cy="1022.7" r="3.9"/><circle class="s" cx="324.3" cy="1031.3" r="3.9"/><circle class="s" cx="289.0" cy="1031.3" r="3.9"/><circle class="s" cx="303.6" cy="1038.8" r="3.9"/><circle class="s" cx="277.2" cy="1052.9" r="3.9"/><circle class="s" cx="266.2" cy="1053.3" r="3.9"/><circle class="s" cx="267.5" cy="1050.1" r="3.9"/><circle class="s" cx="260.8" cy="1046.8" r="3.9"/><circle class="s" cx="274.6" cy="1028.8" r="3.9"/><circle class="s" cx="269.1" cy="1033.9" r="3.9"/><circle class="s" cx="270.1" cy="1028.1" r="3.9"/><circle class="s" cx="260.4" cy="1009.4" r="3.9"/><circle cx="265.5" cy="1010.7" r="3.9"/><circle cx="264.2" cy="1010.3" r="3.9"/><circle cx="267.5" cy="1013.9" r="3.9"/><circle cx="266.1" cy="1012.6" r="3.9"/><circle class="s" cx="257.8" cy="1015.8" r="3.9"/><circle class="s" cx="258.4" cy="1020.4" r="3.9"/><circle cx="261.7" cy="1026.2" r="3.9"/><circle cx="261.5" cy="1027.6" r="3.9"/><circle class="s" cx="257.1" cy="1028.8" r="3.9"/><circle class="s" cx="244.2" cy="1027.5" r="3.9"/><circle cx="247.5" cy="1033.9" r="3.9"/><circle cx="247.4" cy="1034.5" r="3.9"/><circle cx="243.6" cy="1037.8" r="3.9"/><circle cx="243.7" cy="1037.1" r="3.9"/><circle class="s" cx="257.1" cy="1035.9" r="3.9"/><circle cx="261.7" cy="1037.2" r="3.9"/><circle cx="262.2" cy="1038.3" r="3.9"/><circle cx="252.6" cy="1044.0" r="3.9"/><circle cx="253.8" cy="1045.1" r="3.9"/><circle cx="239.1" cy="1033.9" r="3.9"/><circle cx="239.7" cy="1032.4" r="3.9"/><circle class="s" cx="233.9" cy="1039.1" r="3.9"/><circle cx="230.0" cy="1043.6" r="3.9"/><circle cx="229.1" cy="1043.1" r="3.9"/><circle class="s" cx="224.2" cy="1046.2" r="3.9"/><circle cx="217.8" cy="1043.0" r="3.9"/><circle cx="216.7" cy="1043.6" r="3.9"/><circle cx="222.3" cy="1052.0" r="3.9"/><circle cx="223.2" cy="1051.2" r="3.9"/><circle class="s" cx="215.8" cy="1053.3" r="3.9"/><circle class="s" cx="213.2" cy="1059.7" r="3.9"/><circle class="s" cx="208.7" cy="1064.7" r="3.9"/><circle class="s" cx="223.3" cy="1063.6" r="3.9"/><circle class="s" cx="234.5" cy="1063.0" r="3.9"/><circle cx="232.6" cy="1059.1" r="3.9"/><circle cx="233.5" cy="1059.1" r="3.9"/><circle class="s" cx="237.8" cy="1058.5" r="3.9"/><circle cx="241.6" cy="1053.3" r="3.9"/><circle cx="240.2" cy="1054.6" r="3.9"/><circle cx="248.7" cy="1049.4" r="3.9"/><circle cx="249.8" cy="1049.0" r="3.9"/><circle class="s" cx="235.8" cy="1049.4" r="3.9"/><circle cx="231.3" cy="1050.7" r="3.9"/><circle cx="232.6" cy="1050.9" r="3.9"/><circle cx="228.1" cy="1048.1" r="3.9"/><circle cx="228.8" cy="1048.7" r="3.9"/><circle class="s" cx="244.2" cy="1046.2" r="3.9"/><circle class="s" cx="245.5" cy="1043.0" r="3.9"/><circle cx="250.7" cy="1037.8" r="3.9"/><circle cx="251.1" cy="1036.6" r="3.9"/><circle class="s" cx="228.7" cy="1045.5" r="3.9"/><circle class="s" cx="232.6" cy="1046.8" r="3.9"/><circle cx="224.9" cy="1049.4" r="3.9"/><circle cx="225.8" cy="1048.5" r="3.9"/><circle cx="240.4" cy="1040.4" r="3.9"/><circle cx="241.2" cy="1040.0" r="3.9"/><circle class="s" cx="246.8" cy="1030.7" r="3.9"/><circle class="s" cx="220.3" cy="1048.1" r="3.9"/><circle class="s" cx="230.0" cy="1053.3" r="3.9"/><circle class="s" cx="244.9" cy="1028.8" r="3.9"/><circle class="s" cx="248.1" cy="1032.6" r="3.9"/><circle class="s" cx="245.5" cy="1035.2" r="3.9"/><circle cx="249.4" cy="1039.1" r="3.9"/><circle cx="250.0" cy="1040.1" r="3.9"/><circle cx="242.9" cy="1032.6" r="3.9"/><circle cx="243.1" cy="1032.6" r="3.9"/><circle class="s" cx="222.3" cy="1046.2" r="3.9"/><circle cx="226.2" cy="1047.5" r="3.9"/><circle cx="225.9" cy="1046.0" r="3.9"/><circle cx="231.3" cy="1044.9" r="3.9"/><circle cx="231.7" cy="1046.2" r="3.9"/><circle class="s" cx="234.5" cy="1048.1" r="3.9"/><circle cx="237.1" cy="1046.2" r="3.9"/><circle cx="238.6" cy="1045.3" r="3.9"/><circle class="s" cx="228.7" cy="1050.1" r="3.9"/><circle cx="258.4" cy="1014.6" r="3.9"/><circle cx="258.1" cy="1013.3" r="3.9"/><circle class="s" cx="260.4" cy="1018.4" r="3.9"/><circle class="s" cx="262.3" cy="1012.0" r="3.9"/><circle cx="245.5" cy="1040.4" r="3.9"/><circle cx="245.6" cy="1039.7" r="3.9"/><circle class="s" cx="247.5" cy="1044.9" r="3.9"/><circle class="s" cx="241.6" cy="1048.1" r="3.9"/><circle cx="232.6" cy="1053.3" r="3.9"/><circle cx="233.7" cy="1052.6" r="3.9"/><circle cx="235.2" cy="1057.2" r="3.9"/><circle cx="233.9" cy="1055.7" r="3.9"/><circle cx="214.5" cy="1055.9" r="3.9"/><circle cx="214.1" cy="1057.2" r="3.9"/><circle class="s" cx="219.1" cy="1052.0" r="3.9"/></g><path d="M291.6 969.6L302.3 987.4L282.3 987.4Z" fill="rgb(255,60,60)" fill-opacity=".52" stroke="#000" stroke-opacity=".85" stroke-width="1"/><text class="t" x="423.8" y="620.6">LAFB / LPFB</text><text class="lt" x="644.4" y="1079.3">c</text><rect x="712.10" y="632.50" width="29.20" height="472.70" fill="url(#cbg)" stroke="#2b2b2b" stroke-width="1"/><path d="M741.80 1019.88h-5.5" stroke="#333" stroke-width="1"/><text class="ct" x="750.4" y="1031.7">0.5</text><path d="M741.80 934.07h-5.5" stroke="#333" stroke-width="1"/><text class="ct" x="750.4" y="945.9">1</text><path d="M741.80 848.25h-5.5" stroke="#333" stroke-width="1"/><text class="ct" x="750.4" y="860.1">1.5</text><path d="M741.80 762.44h-5.5" stroke="#333" stroke-width="1"/><text class="ct" x="750.4" y="774.2">2</text><path d="M741.80 676.62h-5.5" stroke="#333" stroke-width="1"/><text class="ct" x="750.4" y="688.4">2.5</text><text class="dy" transform="translate(824.6 868.5) rotate(-90)">dyssynchrony</text><text class="yt" x="143.5" y="651.1">20</text><text class="yt" x="143.5" y="771.5">15</text><text class="yt" x="143.5" y="891.2">10</text><text class="yt" x="143.5" y="1011.4">5</text></g><g id="panel-d"><rect x="932.40" y="631.50" width="542.20" height="474.50" fill="url(#fd)"/><g clip-path="url(#cd)"><path d="M932.40 1091.10L1474.60 630.55M932.40 1106.00L1474.60 720.23" stroke="#101010" stroke-width="1.1" stroke-dasharray="5.2 3.9" fill="none"/><path d="M930.40 1099.26L1476.60 674.88" stroke="rgb(72,76,184)" stroke-width="3.5" fill="none"/></g><g class="pt"><circle class="s" cx="1177.2" cy="894.4" r="3.9"/><circle class="s" cx="1174.3" cy="969.8" r="3.9"/><circle class="s" cx="1116.0" cy="1000.4" r="3.9"/><circle class="s" cx="1126.3" cy="1009.9" r="3.9"/><circle class="s" cx="1110.7" cy="1019.1" r="3.9"/><circle class="s" cx="1099.4" cy="1018.4" r="3.9"/><circle class="s" cx="1094.4" cy="1025.1" r="3.9"/><circle cx="1089.4" cy="1024.1" r="3.9"/><circle cx="1089.7" cy="1024.9" r="3.9"/><circle class="s" cx="1086.6" cy="1023.1" r="3.9"/><circle class="s" cx="1082.0" cy="1025.1" r="3.9"/><circle class="s" cx="1068.8" cy="1006.6" r="3.9"/><circle class="s" cx="1066.7" cy="1010.6" r="3.9"/><circle cx="1071.7" cy="1011.3" r="3.9"/><circle cx="1071.5" cy="1011.3" r="3.9"/><circle cx="1062.4" cy="1012.7" r="3.9"/><circle cx="1060.9" cy="1013.7" r="3.9"/><circle class="s" cx="1061.7" cy="1019.8" r="3.9"/><circle class="s" cx="1066.0" cy="1026.2" r="3.9"/><circle class="s" cx="1071.7" cy="1027.6" r="3.9"/><circle class="s" cx="1066.4" cy="1034.7" r="3.9"/><circle class="s" cx="1037.6" cy="1023.1" r="3.9"/><circle cx="1039.0" cy="1026.2" r="3.9"/><circle cx="1039.6" cy="1025.6" r="3.9"/><circle class="s" cx="1048.9" cy="1022.7" r="3.9"/><circle cx="1051.8" cy="1023.4" r="3.9"/><circle cx="1052.6" cy="1024.9" r="3.9"/><circle class="s" cx="1053.9" cy="1031.2" r="3.9"/><circle class="s" cx="1054.2" cy="1035.5" r="3.9"/><circle class="s" cx="1023.8" cy="1041.1" r="3.9"/><circle class="s" cx="1031.9" cy="1039.0" r="3.9"/><circle class="s" cx="1034.0" cy="1039.0" r="3.9"/><circle class="s" cx="1036.9" cy="1041.1" r="3.9"/><circle cx="1043.7" cy="1045.0" r="3.9"/><circle cx="1045.0" cy="1043.7" r="3.9"/><circle cx="1034.0" cy="1046.8" r="3.9"/><circle cx="1034.3" cy="1046.8" r="3.9"/><circle class="s" cx="1026.9" cy="1049.7" r="3.9"/><circle cx="1031.9" cy="1051.8" r="3.9"/><circle cx="1030.6" cy="1050.7" r="3.9"/><circle class="s" cx="1021.5" cy="1054.6" r="3.9"/><circle cx="1017.0" cy="1053.9" r="3.9"/><circle cx="1016.2" cy="1053.6" r="3.9"/><circle class="s" cx="1011.3" cy="1054.9" r="3.9"/><circle class="s" cx="1047.1" cy="1055.1" r="3.9"/><circle class="s" cx="1060.3" cy="1044.4" r="3.9"/><circle class="s" cx="1063.9" cy="1044.7" r="3.9"/><circle class="s" cx="1064.6" cy="1050.1" r="3.9"/><circle class="s" cx="1075.5" cy="1046.8" r="3.9"/><circle class="s" cx="1029.8" cy="1044.0" r="3.9"/><circle cx="1025.5" cy="1047.5" r="3.9"/><circle cx="1026.8" cy="1048.3" r="3.9"/><circle cx="1032.6" cy="1042.6" r="3.9"/><circle cx="1031.7" cy="1042.8" r="3.9"/><circle cx="1011.3" cy="1054.9" r="3.9"/><circle cx="1010.6" cy="1053.9" r="3.9"/><circle class="s" cx="1017.0" cy="1053.9" r="3.9"/><circle class="s" cx="1021.5" cy="1054.6" r="3.9"/><circle class="s" cx="1026.9" cy="1049.7" r="3.9"/><circle cx="1034.0" cy="1046.8" r="3.9"/><circle cx="1034.7" cy="1045.5" r="3.9"/><circle cx="1031.9" cy="1039.0" r="3.9"/><circle cx="1030.9" cy="1039.9" r="3.9"/><circle cx="1034.0" cy="1039.0" r="3.9"/><circle cx="1034.4" cy="1039.3" r="3.9"/><circle class="s" cx="1066.7" cy="1026.2" r="3.9"/><circle cx="1039.0" cy="1026.2" r="3.9"/><circle cx="1039.7" cy="1024.8" r="3.9"/><circle cx="1089.4" cy="1024.1" r="3.9"/><circle cx="1088.1" cy="1023.0" r="3.9"/><circle class="s" cx="1094.4" cy="1025.1" r="3.9"/><circle class="s" cx="1054.2" cy="1035.5" r="3.9"/><circle class="s" cx="1068.8" cy="1006.6" r="3.9"/><circle class="s" cx="1066.7" cy="1010.6" r="3.9"/><circle cx="1033.3" cy="1040.4" r="3.9"/><circle cx="1034.2" cy="1040.8" r="3.9"/><circle cx="1026.2" cy="1049.0" r="3.9"/><circle cx="1026.4" cy="1049.2" r="3.9"/></g><text class="t" x="1203.5" y="620.7">RBBB</text><text class="lt" x="1431.3" y="1079.3">d</text><rect x="1489.70" y="632.60" width="28.70" height="472.90" fill="url(#cbg)" stroke="#2b2b2b" stroke-width="1"/><path d="M1518.90 1020.15h-5.5" stroke="#333" stroke-width="1"/><text class="ct" x="1527.5" y="1031.9">0.5</text><path d="M1518.90 934.30h-5.5" stroke="#333" stroke-width="1"/><text class="ct" x="1527.5" y="946.1">1</text><path d="M1518.90 848.45h-5.5" stroke="#333" stroke-width="1"/><text class="ct" x="1527.5" y="860.2">1.5</text><path d="M1518.90 762.59h-5.5" stroke="#333" stroke-width="1"/><text class="ct" x="1527.5" y="774.4">2</text><path d="M1518.90 676.74h-5.5" stroke="#333" stroke-width="1"/><text class="ct" x="1527.5" y="688.5">2.5</text><text class="dy" transform="translate(1601.7 868.8) rotate(-90)">dyssynchrony</text></g><g id="panel-e"><rect x="153.00" y="1228.30" width="539.20" height="474.00" fill="url(#fe)"/><g clip-path="url(#ce)"><path d="M153.00 1687.42L692.20 1227.35M153.00 1702.30L692.20 1316.94" stroke="#101010" stroke-width="1.1" stroke-dasharray="5.2 3.9" fill="none"/><path d="M151.00 1695.57L694.20 1271.63" stroke="rgb(72,76,184)" stroke-width="3.5" fill="none"/></g><g class="pt"><circle class="s" cx="368.3" cy="1563.6" r="3.9"/><circle class="s" cx="338.8" cy="1588.5" r="3.9"/><circle class="s" cx="326.0" cy="1605.9" r="3.9"/><circle class="s" cx="307.2" cy="1607.3" r="3.9"/><circle class="s" cx="309.6" cy="1625.8" r="3.9"/><circle class="s" cx="376.1" cy="1641.0" r="3.9"/><circle class="s" cx="277.8" cy="1624.8" r="3.9"/><circle class="s" cx="274.6" cy="1629.6" r="3.9"/><circle class="s" cx="289.2" cy="1629.1" r="3.9"/><circle class="s" cx="256.4" cy="1633.2" r="3.9"/><circle class="s" cx="267.5" cy="1636.0" r="3.9"/><circle class="s" cx="262.5" cy="1645.0" r="3.9"/><circle class="s" cx="273.6" cy="1644.3" r="3.9"/><circle class="s" cx="279.3" cy="1643.3" r="3.9"/><circle class="s" cx="285.9" cy="1652.4" r="3.9"/><circle class="s" cx="246.9" cy="1651.8" r="3.9"/><circle class="s" cx="244.3" cy="1654.9" r="3.9"/><circle class="s" cx="252.8" cy="1656.3" r="3.9"/><circle class="s" cx="256.1" cy="1656.3" r="3.9"/><circle class="s" cx="263.2" cy="1657.8" r="3.9"/><circle class="s" cx="270.7" cy="1659.2" r="3.9"/><circle class="s" cx="247.2" cy="1663.4" r="3.9"/></g><text class="t" x="422.6" y="1217.5">RBBB+LAFB</text><text class="lt" x="644.2" y="1678.9">e</text><rect x="707.90" y="1229.40" width="28.70" height="472.40" fill="url(#cbg)" stroke="#2b2b2b" stroke-width="1"/><path d="M737.10 1616.54h-5.5" stroke="#333" stroke-width="1"/><text class="ct" x="745.7" y="1628.3">0.5</text><path d="M737.10 1530.78h-5.5" stroke="#333" stroke-width="1"/><text class="ct" x="745.7" y="1542.6">1</text><path d="M737.10 1445.02h-5.5" stroke="#333" stroke-width="1"/><text class="ct" x="745.7" y="1456.8">1.5</text><path d="M737.10 1359.26h-5.5" stroke="#333" stroke-width="1"/><text class="ct" x="745.7" y="1371.1">2</text><path d="M737.10 1273.50h-5.5" stroke="#333" stroke-width="1"/><text class="ct" x="745.7" y="1285.3">2.5</text><text class="dy" transform="translate(819.9 1465.3) rotate(-90)">dyssynchrony</text><text class="yt" x="143.5" y="1248.0">20</text><text class="yt" x="143.5" y="1368.4">15</text><text class="yt" x="143.5" y="1488.1">10</text><text class="yt" x="143.5" y="1608.3">5</text></g><g id="panel-f"><rect x="931.70" y="1222.20" width="541.20" height="475.40" fill="url(#ff)"/><g clip-path="url(#cf)"><path d="M931.70 1682.67L1472.90 1221.25M931.70 1697.60L1472.90 1311.10" stroke="#101010" stroke-width="1.1" stroke-dasharray="5.2 3.9" fill="none"/><path d="M929.70 1690.84L1474.90 1265.66" stroke="rgb(72,76,184)" stroke-width="3.5" fill="none"/></g><g class="pt"><circle class="s" cx="1107.8" cy="1605.2" r="3.9"/><circle class="s" cx="1108.5" cy="1616.8" r="3.9"/><circle class="s" cx="1099.8" cy="1628.4" r="3.9"/><circle class="s" cx="1108.5" cy="1640.3" r="3.9"/><circle class="s" cx="1054.5" cy="1610.6" r="3.9"/><circle class="s" cx="1064.3" cy="1623.3" r="3.9"/><circle class="s" cx="1058.8" cy="1639.0" r="3.9"/><circle class="s" cx="1041.3" cy="1646.8" r="3.9"/><circle class="s" cx="1013.6" cy="1659.7" r="3.9"/></g><text class="t" x="1202.3" y="1211.4">ILBBB</text><text class="lt" x="1420.8" y="1671.3">f</text><rect x="1488.60" y="1223.30" width="28.40" height="473.80" fill="url(#cbg)" stroke="#2b2b2b" stroke-width="1"/><path d="M1517.50 1611.59h-5.5" stroke="#333" stroke-width="1"/><text class="ct" x="1526.1" y="1623.4">0.5</text><path d="M1517.50 1525.57h-5.5" stroke="#333" stroke-width="1"/><text class="ct" x="1526.1" y="1537.4">1</text><path d="M1517.50 1439.56h-5.5" stroke="#333" stroke-width="1"/><text class="ct" x="1526.1" y="1451.4">1.5</text><path d="M1517.50 1353.54h-5.5" stroke="#333" stroke-width="1"/><text class="ct" x="1526.1" y="1365.3">2</text><path d="M1517.50 1267.53h-5.5" stroke="#333" stroke-width="1"/><text class="ct" x="1526.1" y="1279.3">2.5</text><text class="dy" transform="translate(1600.3 1459.9) rotate(-90)">dyssynchrony</text></g><g id="panel-g"><rect x="151.30" y="1823.20" width="540.90" height="474.80" fill="url(#fg)"/><g clip-path="url(#cg)"><path d="M151.30 2283.09L692.20 1822.25M151.30 2298.00L692.20 1911.99" stroke="#101010" stroke-width="1.1" stroke-dasharray="5.2 3.9" fill="none"/><path d="M149.30 2291.25L694.20 1866.60" stroke="rgb(72,76,184)" stroke-width="3.9" fill="none"/></g><g class="pt"><circle cx="578.0" cy="2173.9" r="3.9"/><circle cx="519.4" cy="2207.7" r="3.9"/><circle cx="492.7" cy="2206.8" r="3.9"/><circle cx="475.7" cy="2221.6" r="3.9"/><circle cx="455.3" cy="2211.8" r="3.9"/><circle cx="433.6" cy="2218.2" r="3.9"/><circle cx="432.1" cy="2223.6" r="3.9"/><circle cx="409.0" cy="2231.7" r="3.9"/><circle cx="395.4" cy="2223.6" r="3.9"/><circle cx="398.3" cy="2238.8" r="3.9"/><circle cx="391.1" cy="2242.6" r="3.9"/><circle cx="354.4" cy="2243.3" r="3.9"/></g><text class="t" x="421.8" y="1812.4">LBBB</text><text class="lt" x="646.0" y="2279.3">g</text><rect x="707.60" y="1824.50" width="28.70" height="473.00" fill="url(#cbg)" stroke="#2b2b2b" stroke-width="1"/><path d="M736.80 2212.13h-5.5" stroke="#333" stroke-width="1"/><text class="ct" x="745.4" y="2223.9">0.5</text><path d="M736.80 2126.26h-5.5" stroke="#333" stroke-width="1"/><text class="ct" x="745.4" y="2138.1">1</text><path d="M736.80 2040.39h-5.5" stroke="#333" stroke-width="1"/><text class="ct" x="745.4" y="2052.2">1.5</text><path d="M736.80 1954.52h-5.5" stroke="#333" stroke-width="1"/><text class="ct" x="745.4" y="1966.3">2</text><path d="M736.80 1868.65h-5.5" stroke="#333" stroke-width="1"/><text class="ct" x="745.4" y="1880.5">2.5</text><text class="dy" transform="translate(819.6 2060.6) rotate(-90)">dyssynchrony</text><text class="yt" x="143.5" y="1842.9">20</text><text class="yt" x="143.5" y="1963.3">15</text><text class="yt" x="143.5" y="2083.0">10</text><text class="yt" x="143.5" y="2203.2">5</text></g><g id="panel-h"><rect x="931.60" y="1823.40" width="541.70" height="475.50" fill="url(#fh)"/><g clip-path="url(#ch)"><path d="M931.60 2283.97L1473.30 1822.45M931.60 2298.90L1473.30 1912.32" stroke="#101010" stroke-width="1.1" stroke-dasharray="5.2 3.9" fill="none"/><path d="M929.60 2292.14L1475.30 1866.87" stroke="rgb(72,76,184)" stroke-width="3.9" fill="none"/></g><g class="pt"><circle cx="1324.7" cy="2208.4" r="3.9"/><circle cx="1305.1" cy="2226.2" r="3.9"/><circle cx="1262.1" cy="2225.0" r="3.9"/><circle cx="1207.4" cy="2237.1" r="3.9"/><circle cx="1193.9" cy="2229.1" r="3.9"/><circle cx="1196.6" cy="2231.6" r="3.9"/><circle cx="1177.8" cy="2240.9" r="3.9"/><circle cx="1177.8" cy="2243.3" r="3.9"/><circle cx="1155.1" cy="2242.3" r="3.9"/><circle cx="1164.0" cy="2250.2" r="3.9"/></g><path d="M1078.2 2217.5L1089.2 2236.3L1067.5 2236.3Z" fill="rgb(255,60,60)" fill-opacity=".52" stroke="#000" stroke-opacity=".85" stroke-width="1"/><text class="t" x="1202.5" y="1812.6">PM / CRT</text><text class="lt" x="1416.0" y="2279.0">h</text><rect x="1490.70" y="1824.50" width="28.80" height="473.90" fill="url(#cbg)" stroke="#2b2b2b" stroke-width="1"/><path d="M1520.00 2212.87h-5.5" stroke="#333" stroke-width="1"/><text class="ct" x="1528.6" y="2224.7">0.5</text><path d="M1520.00 2126.83h-5.5" stroke="#333" stroke-width="1"/><text class="ct" x="1528.6" y="2138.6">1</text><path d="M1520.00 2040.80h-5.5" stroke="#333" stroke-width="1"/><text class="ct" x="1528.6" y="2052.6">1.5</text><path d="M1520.00 1954.77h-5.5" stroke="#333" stroke-width="1"/><text class="ct" x="1528.6" y="1966.6">2</text><path d="M1520.00 1868.74h-5.5" stroke="#333" stroke-width="1"/><text class="ct" x="1528.6" y="1880.5">2.5</text><text class="dy" transform="translate(1602.8 2061.2) rotate(-90)">dyssynchrony</text></g><rect x="156.4" y="635.2" width="141.4" height="77.5" fill="#fff" stroke="#333" stroke-width="1"/><circle cx="189.7" cy="655.8" r="5.6" fill="rgb(64,64,188)" fill-opacity=".62" stroke="#000" stroke-opacity=".9" stroke-width="1"/><path d="M189.7 684.6L196.5 696.8L182.9 696.8Z" fill="rgb(255,60,70)" fill-opacity=".6" stroke="#000" stroke-opacity=".85" stroke-width=".9"/><text class="lg" x="220.6" y="666.6">LAFB</text><text class="lg" x="220.6" y="703.4">LPFB</text><rect x="933.6" y="1827.0" width="129.1" height="77.7" fill="#fff" stroke="#333" stroke-width="1"/><circle cx="966.6" cy="1847.7" r="5.6" fill="rgb(64,64,188)" fill-opacity=".62" stroke="#000" stroke-opacity=".9" stroke-width="1"/><path d="M966.6 1876.3L973.4 1888.2L959.8 1888.2Z" fill="rgb(255,60,70)" fill-opacity=".6" stroke="#000" stroke-opacity=".85" stroke-width=".9"/><text class="lg" x="998.0" y="1858.2">PM</text><text class="lg" x="998.0" y="1894.4">CRT</text><text class="xt" x="157.4" y="2353">0</text><text class="xt" x="244.6" y="2353">50</text><text class="xt" x="349.9" y="2353">100</text><text class="xt" x="466.0" y="2353">150</text><text class="xt" x="581.3" y="2353">200</text><text class="xt" x="695.6" y="2353">250</text><text class="xt" x="936.6" y="2353">0</text><text class="xt" x="1024.4" y="2353">50</text><text class="xt" x="1130.0" y="2353">100</text><text class="xt" x="1245.6" y="2353">150</text><text class="xt" x="1359.7" y="2353">200</text><text class="xt" x="1475.3" y="2353">250</text><text x="841" y="2460" text-anchor="middle" style="font-size:73.5px">voltage time integral (mV.ms)</text><text transform="translate(60.7 1208.5) rotate(-90)" text-anchor="middle" style="font-size:74.5px">speed time integral (10<tspan dy="-22" style="font-size:49px">3</tspan><tspan dy="22">mV)</tspan></text></svg></body></html>
